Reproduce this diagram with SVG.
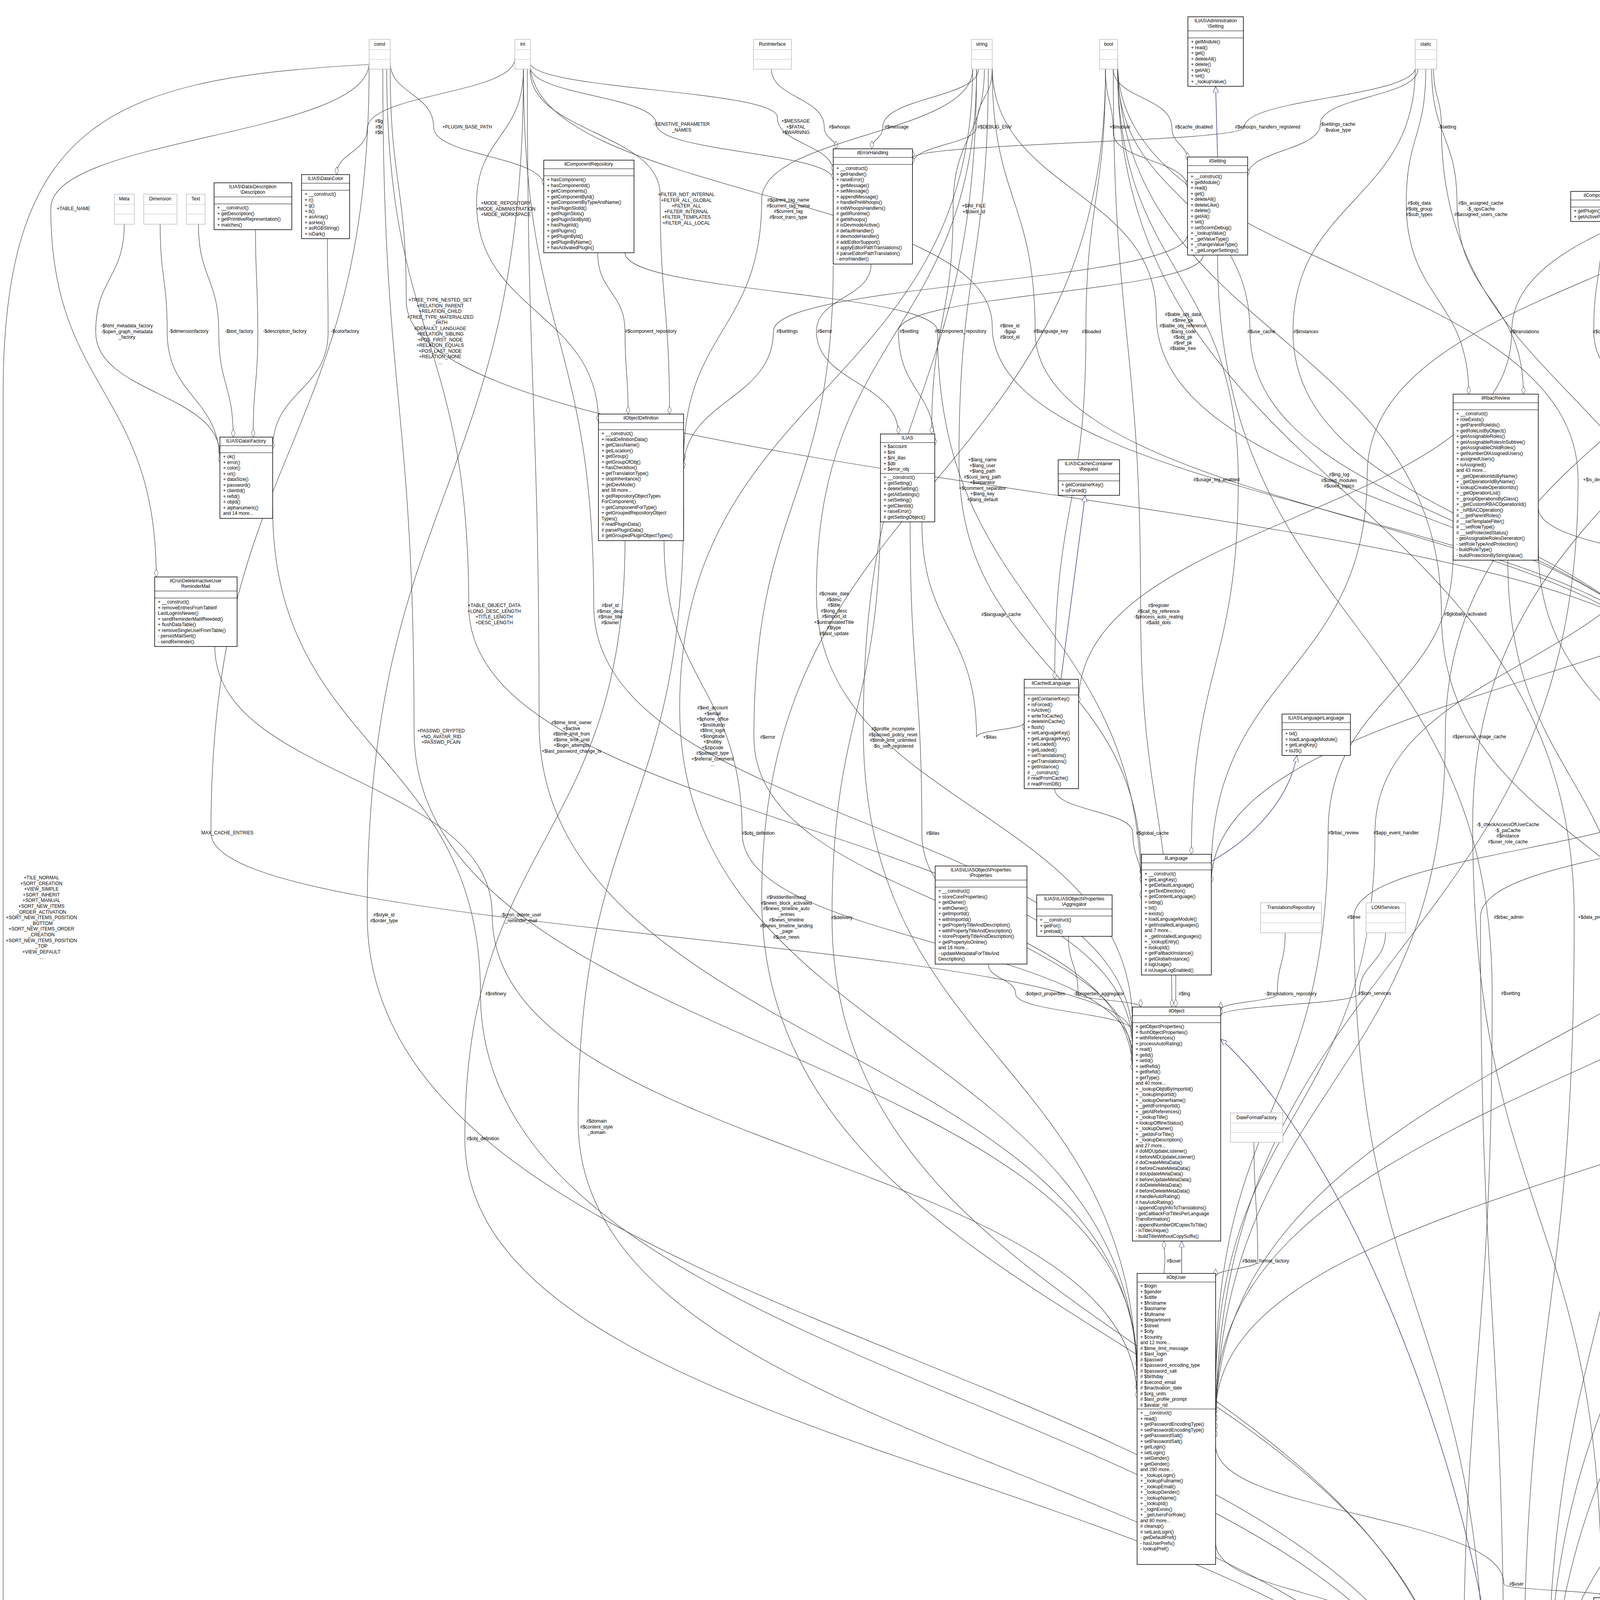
<svg xmlns="http://www.w3.org/2000/svg" width="6948" height="5200" viewBox="0 0 6948 5200">
<style>
.b{fill:#fff;stroke:#000;stroke-width:1.5}
.g{fill:#fff;stroke:#bfbfbf;stroke-width:1.5}
.s{stroke:#000;stroke-width:1.2}
.sg{stroke:#bfbfbf;stroke-width:1.2}
text{font-family:"Liberation Sans",Arial,sans-serif;font-size:12px;fill:#000}
.t{text-anchor:middle}
.l{text-anchor:middle}
.e{fill:none;stroke:#404040;stroke-width:1.2;marker-end:url(#d)}
.i{fill:none;stroke:#191970;stroke-width:1.2;marker-end:url(#tr)}
.id{fill:none;stroke:#191970;stroke-width:1.2;stroke-dasharray:8,4;marker-end:url(#tr)}
</style>
<defs>
<marker id="d" viewBox="0 0 20 10" refX="20" refY="5" markerWidth="20" markerHeight="10" orient="auto" markerUnits="userSpaceOnUse"><path d="M0,5 L10,0 L20,5 L10,10 Z" fill="#fff" stroke="#404040"/></marker>
<marker id="tr" viewBox="0 0 16 14" refX="16" refY="7" markerWidth="16" markerHeight="14" orient="auto" markerUnits="userSpaceOnUse"><path d="M0,0 L16,7 L0,14 Z" fill="#fff" stroke="#191970"/></marker>
</defs>
<rect width="6948" height="5200" fill="#fff"/>

<g id="connectors">
<path class="e" d="M318,574 C318,712 245,712 245,850 C245,1007 563,1007 563,1165"/>
<path class="e" d="M410,574 C410,712 428,712 428,850 C428,1017 563,1017 563,1185"/>
<path class="e" d="M508,574 C508,712 560,712 560,850 C560,985 597,985 597,1119"/>
<path class="e" d="M654,588 C654,719 660,719 660,850 C660,985 648,985 648,1119"/>
<path class="e" d="M838,611 C838,730 840,730 840,850 C840,1000 698,1000 698,1150"/>
<path class="e" d="M1318,150 C1318,240 940,240 940,330 C940,390 862,390 862,447"/>
<path class="e" d="M999,177 C999,470 1040,470 1040,770 C1040,1265 4328,1265 4328,1760"/>
<path class="e" d="M999,160 C999,240 1110,240 1110,325 C1110,400 1392,400 1392,475"/>
<path class="e" d="M1340,177 C1340,350 1220,350 1220,520 C1220,800 1532,800 1532,1080"/>
<path class="e" d="M945,160 C945,350 130,350 130,534 C130,1000 400,1000 400,1477"/>
<path class="e" d="M945,165 C300,200 10,300 8,1000 L8,4600 C8,4660 3000,4690 3745,4700"/>
<path class="e" d="M945,170 C945,1150 540,1150 540,2132 C540,2400 2899,2400 2899,2650"/>
<path class="e" d="M1975,177 C1975,250 2110,250 2110,325 C2110,355 2140,355 2140,381"/>
<path class="e" d="M2505,177 C2505,250 2260,250 2260,325 C2260,355 2232,355 2232,381"/>
<path class="e" d="M1357,160 C1357,230 1990,230 1990,300 C1990,370 2133,370 2133,440"/>
<path class="e" d="M1357,170 C1357,245 1680,245 1680,318 C1680,390 2133,390 2133,460"/>
<path class="e" d="M2540,177 C2540,250 2500,250 2500,325 C2500,370 2336,370 2336,420"/>
<path class="e" d="M1530,647 C1530,748 1600,748 1600,848 C1600,954 1608,954 1608,1060"/>
<path class="e" d="M1357,180 C1357,340 1690,340 1690,498 C1690,780 1714,780 1714,1060"/>
<path class="e" d="M2490,177 C2490,345 1950,345 1950,512 C1950,846 1750,846 1750,1180"/>
<path class="e" d="M2230,676 C2230,762 2090,762 2090,848 C2090,980 2300,980 2300,1111"/>
<path class="e" d="M2520,177 C2520,350 2440,350 2440,527 C2440,820 2385,820 2385,1111"/>
<path class="e" d="M2530,177 C2530,677 2455,677 2455,1177 C2455,1710 2922,1710 2922,2240"/>
<path class="e" d="M3080,653 C3080,750 2300,750 2300,848 C2300,1000 2393,1000 2393,1140"/>
<path class="e" d="M2850,177 C2850,250 3000,250 3000,326 C3000,370 3040,370 3040,410"/>
<path class="e" d="M2830,177 C2830,260 2850,260 2850,340 C2850,410 3040,410 3040,480"/>
<path class="e" d="M3630,177 C3630,248 3380,248 3380,318 C3380,385 3194,385 3194,450"/>
<path class="e" d="M3625,170 C3625,250 3185,250 3185,326 C3185,365 2336,365 2336,405"/>
<path class="e" d="M3650,177 C3650,350 3600,350 3600,520 C3600,765 3760,765 3760,1009"/>
<path class="e" d="M3665,177 C3665,350 3730,350 3730,520 C3730,765 3900,765 3900,1009"/>
<path class="e" d="M3670,177 C3670,250 3690,250 3690,325 C3690,1010 4350,1010 4350,1695"/>
<path class="e" d="M4100,582 C4100,715 4080,715 4080,848 C4080,1010 4290,1010 4290,1177"/>
<path class="e" d="M4300,589 C4300,718 4310,718 4310,848 C4310,1010 4330,1010 4330,1177"/>
<path class="e" d="M4727,160 C4727,245 4300,245 4300,325 C4300,400 4285,400 4285,468"/>
<path class="e" d="M4570,633 C4570,740 4540,740 4540,848 C4540,1010 4365,1010 4365,1177"/>
<path class="e" d="M4560,633 C4560,930 4450,930 4450,1228 C4450,1460 4440,1460 4440,1695"/>
<path class="e" d="M4740,177 C4740,355 4450,355 4450,534 C4450,850 4390,850 4390,1177"/>
<path class="e" d="M6069,200 C5000,300 4860,400 4860,534 C4860,1120 4553,1120 4553,1720"/>
<path class="e" d="M4985,602 C4985,725 5150,725 5150,848 C5150,1020 5353,1020 5353,1190"/>
<path class="e" d="M5190,632 C5190,740 5310,740 5310,848 C5310,990 5363,990 5363,1133"/>
<path class="e" d="M5375,568 C5375,708 5410,708 5410,848 C5410,990 5410,990 5410,1133"/>
<path class="e" d="M5545,588 C5545,718 5510,718 5510,848 C5510,990 5460,990 5460,1133"/>
<path class="e" d="M5700,646 C5700,748 5610,748 5610,848 C5610,1020 5512,1020 5512,1195"/>
<path class="e" d="M6360,574 C6360,710 5720,710 5720,848 C5720,1030 5513,1030 5513,1210"/>
<path class="e" d="M6560,611 C6560,730 6180,730 6180,848 C6180,1040 5513,1040 5513,1230"/>
<path class="e" d="M6186,250 C6186,290 6186,290 6186,325 C6186,350 6186,350 6186,381"/>
<path class="e" d="M6305,150 C6600,200 6900,250 6900,325 C6900,520 6860,520 6860,717"/>
<path class="e" d="M4777,170 C4777,240 5990,240 5990,303 C5990,420 6095,420 6095,530"/>
<path class="e" d="M4777,160 C4777,240 5600,240 5600,318 C5600,365 5730,365 5730,410"/>
<path class="e" d="M4777,177 C4777,250 4900,250 4900,325 C4900,400 5600,400 5600,468"/>
<path class="e" d="M6095,676 C6095,740 5800,740 5800,798 C5800,1280 4553,1280 4553,1760"/>
<path class="e" d="M4600,1327 C4600,1450 4570,1450 4570,1572 C4570,1635 4510,1635 4510,1695"/>
<path class="e" d="M4340,1269 C4340,1420 4340,1420 4340,1572 C4340,1635 4390,1635 4390,1695"/>
<path class="e" d="M3938,1300 C3938,1436 4720,1436 4720,1572 C4720,1666 4750,1666 4750,1761"/>
<path class="e" d="M4500,2065 C4500,2100 4540,2100 4540,2132 C4540,2196 4570,2196 4570,2260"/>
<path class="e" d="M4600,2424 C4600,2484 4575,2484 4575,2543 C4575,2666 4540,2666 4540,2789"/>
<path class="e" d="M4520,2968 C4520,3098 4600,3098 4600,3227 C4600,3394 5580,3394 5580,3560"/>
<path class="e" d="M4553,2000 C4553,2442 4770,2442 4770,2884 C4770,3232 5580,3232 5580,3580"/>
<path class="e" d="M4300,3726 C4300,3863 4230,3863 4230,4000 C4230,4045 4210,4045 4210,4090"/>
<path class="e" d="M3112,3700 C3112,3878 3850,3878 3850,4055 C3850,4072 4130,4072 4130,4090"/>
<path class="e" d="M3860,1434 C3860,1988 4180,1988 4180,2543 C4180,3316 4110,3316 4110,4090"/>
<path class="e" d="M5703,2906 C5703,3067 5703,3067 5703,3228 C5703,3379 5703,3379 5703,3530"/>
<path class="e" d="M6620,968 C6620,1550 5960,1550 5960,2133 C5960,2831 5830,2831 5830,3530"/>
<path class="e" d="M6200,676 C6200,1512 6540,1512 6540,2349 C6540,2974 5850,2974 5850,3600"/>
<path class="e" d="M5650,3723 C5650,4166 5300,4166 5300,4610 C5300,4665 3961,4665 3961,4720"/>
<path class="e" d="M3010,2496 C3010,2513 3010,2513 3010,2530 C3010,2554 3010,2554 3010,2578"/>
<path class="e" d="M2530,2468 C2530,2506 2600,2506 2600,2544 C2600,2592 2899,2592 2899,2640"/>
<path class="e" d="M2735,2397 C2735,2470 2760,2470 2760,2544 C2760,2561 2920,2561 2920,2578"/>
<path class="e" d="M3290,2388 C3290,2466 3270,2466 3270,2544 C3270,2564 3125,2564 3125,2585"/>
<path class="e" d="M2980,3260 C2980,3244 2982,3244 2982,3228 C2982,3202 2980,3202 2980,3177"/>
<path class="e" d="M3210,2924 C3210,3076 3220,3076 3220,3228 C3220,3248 3112,3248 3112,3268"/>
<path class="e" d="M2700,2019 C2700,2076 2900,2076 2900,2132 C2900,2196 2922,2196 2922,2260"/>
<path class="e" d="M2360,1336 C2360,1612 2500,1612 2500,1887 C2500,1868 2622,1868 2622,1850"/>
<path class="e" d="M1700,1384 C1700,1758 1900,1758 1900,2133 C1900,2416 2899,2416 2899,2700"/>
<path class="e" d="M2330,1336 C2330,1734 2360,1734 2360,2133 C2360,2426 2899,2426 2899,2720"/>
<path class="e" d="M2500,177 C2500,848 2090,848 2090,1520 C2090,2070 2899,2070 2899,2620"/>
<path class="e" d="M1340,177 C1340,864 1520,864 1520,1550 C1520,2105 2899,2105 2899,2660"/>
<path class="e" d="M990,177 C990,864 1200,864 1200,1550 C1200,2115 2899,2115 2899,2680"/>
<path class="e" d="M980,177 C980,1024 1060,1024 1060,1871 C1060,2686 2911,2686 2911,3500"/>
<path class="e" d="M1350,177 C1350,1014 1380,1014 1380,1850 C1380,2685 2911,2685 2911,3520"/>
<path class="e" d="M2490,177 C2490,994 1740,994 1740,1812 C1740,2676 2911,2676 2911,3540"/>
<path class="e" d="M2500,180 C2500,1022 2210,1022 2210,1866 C2210,2713 2911,2713 2911,3560"/>
<path class="e" d="M550,1655 C550,1992 1260,1992 1260,2342 C1260,2961 2911,2961 2911,3580"/>
<path class="e" d="M3720,1420 C3720,1776 3400,1776 3400,2132 C3400,2841 3112,2841 3112,3550"/>
<path class="e" d="M4280,1260 C4280,1696 3520,1696 3520,2132 C3520,2851 3112,2851 3112,3570"/>
<path class="e" d="M2861,150 C2861,861 3690,861 3690,1572 C3690,2180 4470,2180 4470,2789"/>
<path class="e" d="M4640,640 C4640,1259 4880,1259 4880,1878 C4880,3219 3961,3219 3961,4560"/>
<path class="e" d="M4777,177 C4777,1006 5060,1006 5060,1835 C5060,2718 3112,2718 3112,3600"/>
<path class="e" d="M5400,1311 C5400,1830 5060,1830 5060,2349 C5060,2985 3112,2985 3112,3620"/>
<path class="e" d="M4760,177 C4760,875 5040,875 5040,1573 C5040,2606 3112,2606 3112,3640"/>
<path class="e" d="M4777,180 C4777,1156 5260,1156 5260,2133 C5260,3116 4280,3116 4280,4100"/>
<path class="e" d="M6069,220 C5790,900 5790,900 5790,1573 C5790,2846 4280,2846 4280,4120"/>
<path class="e" d="M6100,265 C6100,1200 6060,1200 6060,2133 C6060,3306 3961,3306 3961,4480"/>
<path class="e" d="M6186,265 C6186,746 6186,746 6186,1228 C6186,1764 4709,1764 4709,2300"/>
<path class="e" d="M4727,175 C4727,695 3500,695 3500,1215 C3500,1722 3101,1722 3101,2230"/>
<path class="e" d="M2861,170 C2861,699 3170,699 3170,1228 C3170,1708 3050,1708 3050,2187"/>
<path class="e" d="M2850,177 C2850,864 2920,864 2920,1550 C2920,2064 3000,2064 3000,2578"/>
<path class="e" d="M4740,177 C4740,692 4760,692 4760,1206 C4760,1733 3101,1733 3101,2260"/>
<path class="e" d="M4620,647 C4620,938 4954,938 4954,1228 C4954,1494 4800,1494 4800,1761"/>
<path class="e" d="M2861,160 C2861,694 4040,694 4040,1228 C4040,2444 3112,2444 3112,3660"/>
<path class="e" d="M4727,177 C4727,1032 3700,1032 3700,1886 C3700,2783 3112,2783 3112,3680"/>
<path class="e" d="M4740,177 C4740,1144 3770,1144 3770,2111 C3770,3100 4100,3100 4100,4090"/>
<path class="e" d="M4328,2000 C4328,2174 3466,2174 3466,2348 C3466,3369 3800,3369 3800,4390"/>
<path class="e" d="M4628,2000 C4628,2174 3790,2174 3790,2348 C3790,3369 3850,3369 3850,4390"/>
<path class="e" d="M2861,177 C2861,1262 4030,1262 4030,2348 C4030,3369 3900,3369 3900,4390"/>
<path class="e" d="M4750,177 C4750,1259 4220,1259 4220,2341 C4220,3380 3961,3380 3961,4420"/>
<path class="e" d="M3938,1400 C3938,1874 4410,1874 4410,2348 C4410,3399 3961,3399 3961,4450"/>
<path class="e" d="M3547,2388 C3547,2466 3480,2466 3480,2543 C3480,2572 3125,2572 3125,2600"/>
<path class="e" d="M3117,653 C3117,1598 3820,1598 3820,2543 C3820,3482 3745,3482 3745,4420"/>
<path class="e" d="M1340,177 C1340,1260 940,1260 940,2342 C940,3481 3745,3481 3745,4620"/>
<path class="e" d="M698,1300 C698,1922 1230,1922 1230,2544 C1230,3592 3745,3592 3745,4640"/>
<path class="e" d="M1600,1384 C1600,2150 1190,2150 1190,2915 C1190,3788 3745,3788 3745,4660"/>
<path class="e" d="M1750,1300 C1750,2085 1480,2085 1480,2870 C1480,3775 3745,3775 3745,4680"/>
<path class="e" d="M2830,177 C2830,1237 1950,1237 1950,2297 C1950,3428 3745,3428 3745,4560"/>
<path class="e" d="M2254,1300 C2254,1824 2130,1824 2130,2349 C2130,3464 3745,3464 3745,4580"/>
<path class="e" d="M3112,3950 C3112,4078 3560,4078 3560,4206 C3560,4403 3745,4403 3745,4600"/>
<path class="e" d="M1357,160 C1357,497 2540,497 2540,834 C2540,1317 4328,1317 4328,1800"/>
<path class="e" d="M2540,177 C2540,512 2650,512 2650,848 C2650,1334 4328,1334 4328,1820"/>
<path class="e" d="M2830,177 C2830,513 2780,513 2780,849 C2780,1294 2700,1294 2700,1739"/>
<path class="e" d="M2540,170 C2540,488 2960,488 2960,805 C2960,1322 4328,1322 4328,1840"/>
<path class="e" d="M2861,177 C2861,513 3200,513 3200,849 C3200,1354 4328,1354 4328,1860"/>
<path class="e" d="M3623,177 C3623,513 3310,513 3310,849 C3310,1364 4328,1364 4328,1880"/>
<path class="e" d="M4727,177 C4727,513 3870,513 3870,849 C3870,1324 2761,1324 2761,1800"/>
<path class="e" d="M3040,600 C3040,724 1980,724 1980,848 C1980,1024 1750,1024 1750,1200"/>
<path class="e" d="M1600,647 C1600,748 2400,748 2400,848 C2400,1574 2922,1574 2922,2300"/>
<path class="e" d="M2133,680 C2133,1284 1930,1284 1930,1887 C1930,2314 2899,2314 2899,2740"/>
<path class="e" d="M6069,40 C5000,100 4230,200 4230,325 C4230,410 4219,410 4219,490"/>
<path class="e" d="M6100,265 C6100,556 6080,556 6080,848 C6080,1049 5513,1049 5513,1250"/>
<path class="e" d="M6280,265 C6280,556 6310,556 6310,848 C6310,1374 4553,1374 4553,1900"/>
<path class="e" d="M6000,4252 C6000,4475 3961,4475 3961,4740"/>
<path class="i" d="M3117,402 L3112,221"/>
<path class="i" d="M3853,5030 L3853,4963"/>
<path class="i" d="M3025,3260 L3025,3177"/>
<path class="i" d="M3833,4390 C3800,3900 3500,3000 3125,2660"/>
<path class="i" d="M3101,2205 C3200,2150 3300,2050 3320,1934"/>
<path class="i" d="M2716,1739 L2778,1268"/>
<path class="i" d="M6385,483 L6681,257"/>
<path class="i" d="M6759,550 C6900,500 6930,350 6900,257"/>
<path class="i" d="M5690,2848 L5412,2462"/>
<path class="id" d="M5700,2848 L5600,2415"/>
<path class="id" d="M5712,2848 L5797,2447"/>
</g>

<g id="labels">
<text class="l" x="188" y="538">+TABLE_NAME</text>
<text class="l" x="970" y="314"><tspan x="970">#$g</tspan><tspan x="970" dy="14.5">#$r</tspan><tspan x="970" dy="14.5">#$b</tspan></text>
<text class="l" x="1196" y="329">+PLUGIN_BASE_PATH</text>
<text class="l" x="1295" y="524"><tspan x="1295">+MODE_REPOSITORY</tspan><tspan x="1295" dy="14.5">+MODE_ADMINISTRATION</tspan><tspan x="1295" dy="14.5">+MODE_WORKSPACE</tspan></text>
<text class="l" x="1127" y="772"><tspan x="1127">+TREE_TYPE_NESTED_SET</tspan><tspan x="1127" dy="14.5">+RELATION_PARENT</tspan><tspan x="1127" dy="14.5">+RELATION_CHILD</tspan><tspan x="1127" dy="14.5">+TREE_TYPE_MATERIALIZED</tspan><tspan x="1127" dy="14.5">_PATH</tspan><tspan x="1127" dy="14.5">#DEFAULT_LANGUAGE</tspan><tspan x="1127" dy="14.5">+RELATION_SIBLING</tspan><tspan x="1127" dy="14.5">+POS_FIRST_NODE</tspan><tspan x="1127" dy="14.5">+RELATION_EQUALS</tspan><tspan x="1127" dy="14.5">+POS_LAST_NODE</tspan><tspan x="1127" dy="14.5">+RELATION_NONE</tspan><tspan x="1127" dy="14.5">...</tspan></text>
<text class="l" x="325" y="838"><tspan x="325">-$html_metadata_factory</tspan><tspan x="325" dy="14.5">-$open_graph_metadata</tspan><tspan x="325" dy="14.5">_factory</tspan></text>
<text class="l" x="483" y="852">-$dimensionfactory</text>
<text class="l" x="612" y="852">-$text_factory</text>
<text class="l" x="729" y="852">-$description_factory</text>
<text class="l" x="883" y="852">-$colorfactory</text>
<text class="l" x="1745" y="322"><tspan x="1745">-SENSTIVE_PARAMETER</tspan><tspan x="1745" dy="14.5">_NAMES</tspan></text>
<text class="l" x="2037" y="314"><tspan x="2037">+$MESSAGE</tspan><tspan x="2037" dy="14.5">+$FATAL</tspan><tspan x="2037" dy="14.5">+$WARNING</tspan></text>
<text class="l" x="2149" y="329">#$whoops</text>
<text class="l" x="2295" y="329">#$message</text>
<text class="l" x="2546" y="329">#$DEBUG_ENV</text>
<text class="l" x="1757" y="502"><tspan x="1757">+FILTER_NOT_INTERNAL</tspan><tspan x="1757" dy="14.5">+FILTER_ALL_GLOBAL</tspan><tspan x="1757" dy="14.5">+FILTER_ALL</tspan><tspan x="1757" dy="14.5">+FILTER_INTERNAL</tspan><tspan x="1757" dy="14.5">+FILTER_TEMPLATES</tspan><tspan x="1757" dy="14.5">+FILTER_ALL_LOCAL</tspan></text>
<text class="l" x="2018" y="516"><tspan x="2018">#$parent_tag_name</tspan><tspan x="2018" dy="14.5">#$current_tag_name</tspan><tspan x="2018" dy="14.5">#$current_tag</tspan><tspan x="2018" dy="14.5">#$root_trans_type</tspan></text>
<text class="l" x="2493" y="531"><tspan x="2493">+$INI_FILE</tspan><tspan x="2493" dy="14.5">+$client_id</tspan></text>
<text class="l" x="1666" y="852">#$component_repository</text>
<text class="l" x="2015" y="852">#$settings</text>
<text class="l" x="2111" y="852">#$error</text>
<text class="l" x="2327" y="852">#$setting</text>
<text class="l" x="2459" y="852">#$component_repository</text>
<text class="l" x="2585" y="838"><tspan x="2585">#$tree_id</tspan><tspan x="2585" dy="14.5">-$gap</tspan><tspan x="2585" dy="14.5">#$root_id</tspan></text>
<text class="l" x="2690" y="852">#$language_key</text>
<text class="l" x="2794" y="853">#$loaded</text>
<text class="l" x="2515" y="1181"><tspan x="2515">+$lang_name</tspan><tspan x="2515" dy="14.5">+$lang_user</tspan><tspan x="2515" dy="14.5">+$lang_path</tspan><tspan x="2515" dy="14.5">#$cust_lang_path</tspan><tspan x="2515" dy="14.5">+$separator</tspan><tspan x="2515" dy="14.5">+$comment_separator</tspan><tspan x="2515" dy="14.5">+$lang_key</tspan><tspan x="2515" dy="14.5">+$lang_default</tspan></text>
<text class="l" x="2867" y="329">+$module</text>
<text class="l" x="3056" y="329">#$cache_disabled</text>
<text class="l" x="3245" y="329">#$whoops_handlers_registered</text>
<text class="l" x="3424" y="322"><tspan x="3424">-$settings_cache</tspan><tspan x="3424" dy="14.5">-$value_type</tspan></text>
<text class="l" x="3705" y="329">-$setting</text>
<text class="l" x="3633" y="524"><tspan x="3633">#$obj_data</tspan><tspan x="3633" dy="14.5">#$obj_group</tspan><tspan x="3633" dy="14.5">#$sub_types</tspan></text>
<text class="l" x="3791" y="524"><tspan x="3791">#$is_assigned_cache</tspan><tspan x="3791" dy="14.5">-$_opsCache</tspan><tspan x="3791" dy="14.5">#$assigned_users_cache</tspan></text>
<text class="l" x="3028" y="809"><tspan x="3028">#$table_obj_data</tspan><tspan x="3028" dy="14.5">#$tree_pk</tspan><tspan x="3028" dy="14.5">#$table_obj_reference</tspan><tspan x="3028" dy="14.5">-$lang_code</tspan><tspan x="3028" dy="14.5">#$obj_pk</tspan><tspan x="3028" dy="14.5">#$ref_pk</tspan><tspan x="3028" dy="14.5">#$table_tree</tspan></text>
<text class="l" x="3229" y="853">#$use_cache</text>
<text class="l" x="3343" y="853">#$instances</text>
<text class="l" x="3903" y="853">#$translations</text>
<text class="l" x="4135" y="853">#$component_factory</text>
<text class="l" x="4253" y="329">#$db</text>
<text class="l" x="4365" y="329">#$event_handling_data</text>
<text class="l" x="4963" y="329">#$observer_groups</text>
<text class="l" x="4495" y="538">#$listener</text>
<text class="l" x="4878" y="538">#$db</text>
<text class="l" x="4270" y="852">#$log</text>
<text class="l" x="4366" y="852">-$event_handling_data</text>
<text class="l" x="4588" y="852">#$logger</text>
<text class="l" x="5171" y="852">#$flavours</text>
<text class="l" x="5332" y="852">#$consumers</text>
<text class="l" x="5430" y="852">#$preloader</text>
<text class="l" x="5532" y="852">#$events</text>
<text class="l" x="5637" y="852">#$collections</text>
<text class="l" x="5745" y="852">#$manager</text>
<text class="l" x="6097" y="852">#$db</text>
<text class="l" x="6214" y="852">#$container_manager</text>
<text class="l" x="6326" y="852">#$db</text>
<text class="l" x="5657" y="322"><tspan x="5657">-$rid_cache</tspan><tspan x="5657" dy="14.5">-$cache</tspan></text>
<text class="l" x="6054" y="307"><tspan x="6054">#$object_data_cache</tspan><tspan x="6054" dy="14.5">#$description_trans</tspan><tspan x="6054" dy="14.5">#$reference_cache</tspan><tspan x="6054" dy="14.5">#$trans_loaded</tspan></text>
<text class="l" x="6205" y="329">#$db</text>
<text class="l" x="6922" y="329">#$db</text>
<text class="l" x="5874" y="802"><tspan x="5874">#$oc_preloaded</tspan><tspan x="5874" dy="14.5">#$translation_cache</tspan><tspan x="5874" dy="14.5">#$is_saved_cache</tspan><tspan x="5874" dy="14.5">#$in_tree_cache</tspan><tspan x="5874" dy="14.5">-$path_id_cache</tspan><tspan x="5874" dy="14.5">#$parent_cache</tspan><tspan x="5874" dy="14.5">#$parent_type_cache</tspan><tspan x="5874" dy="14.5">#$depth_cache</tspan></text>
<text class="l" x="4496" y="1232">#$logger</text>
<text class="l" x="4815" y="1210"><tspan x="4815">#$cached_modules</tspan><tspan x="4815" dy="14.5">#$map_modules_txt</tspan><tspan x="4815" dy="14.5">+$loaded_modules</tspan><tspan x="4815" dy="14.5">+$text</tspan></text>
<text class="l" x="4954" y="1232">#$logger</text>
<text class="l" x="6186" y="1232">#$db</text>
<text class="l" x="4103" y="1232">+$is_desktop_item</text>
<text class="l" x="3428" y="1219"><tspan x="3428">#$lng_log</tspan><tspan x="3428" dy="14.5">#$used_modules</tspan><tspan x="3428" dy="14.5">#$used_topics</tspan></text>
<text class="l" x="3114" y="1232">#$usage_log_enabled</text>
<text class="l" x="106" y="2251"><tspan x="106">+TILE_NORMAL</tspan><tspan x="106" dy="14.6">+SORT_CREATION</tspan><tspan x="106" dy="14.6">+VIEW_SIMPLE</tspan><tspan x="106" dy="14.6">+SORT_INHERIT</tspan><tspan x="106" dy="14.6">+SORT_MANUAL</tspan><tspan x="106" dy="14.6">+SORT_NEW_ITEMS</tspan><tspan x="106" dy="14.6">_ORDER_ACTIVATION</tspan><tspan x="106" dy="14.6">+SORT_NEW_ITEMS_POSITION</tspan><tspan x="106" dy="14.6">_BOTTOM</tspan><tspan x="106" dy="14.6">+SORT_NEW_ITEMS_ORDER</tspan><tspan x="106" dy="14.6">_CREATION</tspan><tspan x="106" dy="14.6">+SORT_NEW_ITEMS_POSITION</tspan><tspan x="106" dy="14.6">_TOP</tspan><tspan x="106" dy="14.6">+VIEW_DEFAULT</tspan><tspan x="106" dy="14.6">...</tspan></text>
<text class="l" x="582" y="2136">MAX_CACHE_ENTRIES</text>
<text class="l" x="1265" y="1554"><tspan x="1265">+TABLE_OBJECT_DATA</tspan><tspan x="1265" dy="14.5">+LONG_DESC_LENGTH</tspan><tspan x="1265" dy="14.5">+TITLE_LENGTH</tspan><tspan x="1265" dy="14.5">+DESC_LENGTH</tspan></text>
<text class="l" x="1562" y="1554"><tspan x="1562">#$ref_id</tspan><tspan x="1562" dy="14.5">#$max_desc</tspan><tspan x="1562" dy="14.5">#$max_title</tspan><tspan x="1562" dy="14.5">#$owner</tspan></text>
<text class="l" x="1129" y="1875"><tspan x="1129">+PASSWD_CRYPTED</tspan><tspan x="1129" dy="14.5">+NO_AVATAR_RID</tspan><tspan x="1129" dy="14.5">+PASSWD_PLAIN</tspan></text>
<text class="l" x="1463" y="1854"><tspan x="1463">#$time_limit_owner</tspan><tspan x="1463" dy="14.5">+$active</tspan><tspan x="1463" dy="14.5">#$time_limit_from</tspan><tspan x="1463" dy="14.5">#$time_limit_until</tspan><tspan x="1463" dy="14.5">+$login_attempts</tspan><tspan x="1463" dy="14.5">+$last_password_change_ts</tspan></text>
<text class="l" x="983" y="2346"><tspan x="983">#$style_id</tspan><tspan x="983" dy="14.5">#$order_type</tspan></text>
<text class="l" x="1334" y="2346"><tspan x="1334">-$cron_delete_user</tspan><tspan x="1334" dy="14.5">_reminder_mail</tspan></text>
<text class="l" x="1269" y="2548">#$refinery</text>
<text class="l" x="1236" y="2919">#$obj_definition</text>
<text class="l" x="1527" y="2874"><tspan x="1527">#$domain</tspan><tspan x="1527" dy="14.5">#$content_style</tspan><tspan x="1527" dy="14.5">_domain</tspan></text>
<text class="l" x="2135" y="1524"><tspan x="2135">#$create_date</tspan><tspan x="2135" dy="14.5">#$desc</tspan><tspan x="2135" dy="14.5">#$title</tspan><tspan x="2135" dy="14.5">#$long_desc</tspan><tspan x="2135" dy="14.5">#$import_id</tspan><tspan x="2135" dy="14.5">+$untranslatedTitle</tspan><tspan x="2135" dy="14.5">#$type</tspan><tspan x="2135" dy="14.5">#$last_update</tspan></text>
<text class="l" x="2563" y="1577">#$language_cache</text>
<text class="l" x="2966" y="1554"><tspan x="2966">#$register</tspan><tspan x="2966" dy="14.5">#$call_by_reference</tspan><tspan x="2966" dy="14.5">-$process_auto_reating</tspan><tspan x="2966" dy="14.5">#$add_dots</tspan></text>
<text class="l" x="1824" y="1816"><tspan x="1824">#$ext_account</tspan><tspan x="1824" dy="14.5">+$email</tspan><tspan x="1824" dy="14.5">+$phone_office</tspan><tspan x="1824" dy="14.5">+$institution</tspan><tspan x="1824" dy="14.5">#$first_login</tspan><tspan x="1824" dy="14.5">+$longitude</tspan><tspan x="1824" dy="14.5">+$hobby</tspan><tspan x="1824" dy="14.5">+$zipcode</tspan><tspan x="1824" dy="14.5">#$passwd_type</tspan><tspan x="1824" dy="14.5">+$referral_comment</tspan><tspan x="1824" dy="14.5">...</tspan></text>
<text class="l" x="1965" y="1891">#$error</text>
<text class="l" x="2286" y="1870"><tspan x="2286">#$profile_incomplete</tspan><tspan x="2286" dy="14.5">#$passwd_policy_reset</tspan><tspan x="2286" dy="14.5">#$time_limit_unlimited</tspan><tspan x="2286" dy="14.5">-$is_self_registered</tspan></text>
<text class="l" x="2534" y="1891">+$ilias</text>
<text class="l" x="1941" y="2137">#$obj_definition</text>
<text class="l" x="2388" y="2137">#$ilias</text>
<text class="l" x="2950" y="2137">#$global_cache</text>
<text class="l" x="2013" y="2301"><tspan x="2013">#$hiddenfilesfound</tspan><tspan x="2013" dy="14.5">#$news_block_activated</tspan><tspan x="2013" dy="14.5">#$news_timeline_auto</tspan><tspan x="2013" dy="14.5">_entries</tspan><tspan x="2013" dy="14.5">#$news_timeline</tspan><tspan x="2013" dy="14.5">#$news_timeline_landing</tspan><tspan x="2013" dy="14.5">_page</tspan><tspan x="2013" dy="14.5">#$use_news</tspan></text>
<text class="l" x="2155" y="2353">#$delivery</text>
<text class="l" x="2675" y="2548">-$object_properties</text>
<text class="l" x="2813" y="2548">-$properties_aggregator</text>
<text class="l" x="3032" y="2548">#$lng</text>
<text class="l" x="3305" y="2548">-$translations_repository</text>
<text class="l" x="3751" y="1576">#$globally_activated</text>
<text class="l" x="4112" y="1576">#$log</text>
<text class="l" x="4391" y="1576">#$eventHandler</text>
<text class="l" x="4593" y="1576">$tree_impl</text>
<text class="l" x="4773" y="1576">#$rbacreview</text>
<text class="l" x="3787" y="1890">#$personal_image_cache</text>
<text class="l" x="4916" y="1882"><tspan x="4916">#$obj_log</tspan><tspan x="4916" dy="14.5">#$log</tspan></text>
<text class="l" x="3439" y="2136">#$rbac_review</text>
<text class="l" x="3574" y="2136">#$app_event_handler</text>
<text class="l" x="3860" y="2115"><tspan x="3860">-$_checkAccessOfUserCache</tspan><tspan x="3860" dy="14.5">-$_paCache</tspan><tspan x="3860" dy="14.5">#$instance</tspan><tspan x="3860" dy="14.5">#$user_role_cache</tspan></text>
<text class="l" x="4565" y="2136">#$tree</text>
<text class="l" x="3466" y="2352">#$tree</text>
<text class="l" x="3862" y="2352">#$rbac_admin</text>
<text class="l" x="4088" y="2352">+$data_preloaded</text>
<text class="l" x="4276" y="2345"><tspan x="4276">+$items</tspan><tspan x="4276" dy="14.5">#$type_grps</tspan></text>
<text class="l" x="4465" y="2352">#$rbacreview</text>
<text class="l" x="3519" y="2547">#$lom_services</text>
<text class="l" x="3867" y="2547">#$setting</text>
<text class="l" x="4209" y="2547">#$review</text>
<text class="l" x="4604" y="2547">#$repo</text>
<text class="l" x="5055" y="1577">+$objectList</text>
<text class="l" x="5780" y="1577">#$db</text>
<text class="l" x="5083" y="1839"><tspan x="5083">+$prefs</tspan><tspan x="5083" dy="14.5">+$user_defined_data</tspan><tspan x="5083" dy="14.5">#$interests_help</tspan><tspan x="5083" dy="14.5">_offered</tspan><tspan x="5083" dy="14.5">#$interests_general</tspan><tspan x="5083" dy="14.5">#$oldPrefs</tspan><tspan x="5083" dy="14.5">#$interests_help</tspan><tspan x="5083" dy="14.5">_looking</tspan></text>
<text class="l" x="5277" y="2137">#$mem_view</text>
<text class="l" x="5994" y="2137">#$repo</text>
<text class="l" x="6061" y="2137">#$db</text>
<text class="l" x="5079" y="2353">-$lrss</text>
<text class="l" x="6568" y="2353">#$objectDataCache</text>
<text class="l" x="5733" y="3232">#$access</text>
<text class="l" x="4796" y="2888">#$tree</text>
<text class="l" x="4639" y="3231">#$fav_manager</text>
<text class="l" x="3882" y="4059">#$user</text>
<text class="l" x="4228" y="4059">#$http</text>
<text class="l" x="3581" y="4210">#$user</text>
<text class="l" x="3240" y="3232">#$date_format_factory</text>
<text class="l" x="3005" y="3232">#$user</text>
<text class="l" x="5350" y="4614"><tspan x="5350">#$recommended_content</tspan><tspan x="5350" dy="14.5">_manager</tspan></text>
</g>

<g id="n_const"><rect class="g" x="945" y="101" width="54" height="76"/><text class="t" x="972" y="117">const</text><line class="sg" x1="945" y1="127" x2="999" y2="127"/><line class="sg" x1="945" y1="152" x2="999" y2="152"/></g>
<g id="n_int"><rect class="g" x="1318" y="101" width="40" height="76"/><text class="t" x="1338" y="117">int</text><line class="sg" x1="1318" y1="127" x2="1358" y2="127"/><line class="sg" x1="1318" y1="152" x2="1358" y2="152"/></g>
<g id="n_runinterface"><rect class="g" x="1929" y="101" width="97" height="76"/><text class="t" x="1977" y="117">RunInterface</text><line class="sg" x1="1929" y1="127" x2="2026" y2="127"/><line class="sg" x1="1929" y1="152" x2="2026" y2="152"/></g>
<g id="n_string"><rect class="g" x="2487" y="101" width="53" height="76"/><text class="t" x="2513" y="117">string</text><line class="sg" x1="2487" y1="127" x2="2540" y2="127"/><line class="sg" x1="2487" y1="152" x2="2540" y2="152"/></g>
<g id="n_bool"><rect class="g" x="2815" y="101" width="46" height="76"/><text class="t" x="2838" y="117">bool</text><line class="sg" x1="2815" y1="127" x2="2861" y2="127"/><line class="sg" x1="2815" y1="152" x2="2861" y2="152"/></g>
<g id="n_static"><rect class="g" x="3623" y="101" width="55" height="76"/><text class="t" x="3650" y="117">static</text><line class="sg" x1="3623" y1="127" x2="3678" y2="127"/><line class="sg" x1="3623" y1="152" x2="3678" y2="152"/></g>
<g id="n_array"><rect class="g" x="4727" y="101" width="50" height="76"/><text class="t" x="4752" y="117">array</text><line class="sg" x1="4727" y1="127" x2="4777" y2="127"/><line class="sg" x1="4727" y1="152" x2="4777" y2="152"/></g>
<g id="n_meta"><rect class="g" x="293" y="497" width="51" height="77"/><text class="t" x="318" y="513">Meta</text><line class="sg" x1="293" y1="523" x2="344" y2="523"/><line class="sg" x1="293" y1="548" x2="344" y2="548"/></g>
<g id="n_dimension"><rect class="g" x="368" y="497" width="85" height="77"/><text class="t" x="410" y="513">Dimension</text><line class="sg" x1="368" y1="523" x2="453" y2="523"/><line class="sg" x1="368" y1="548" x2="453" y2="548"/></g>
<g id="n_text"><rect class="g" x="477" y="497" width="48" height="77"/><text class="t" x="501" y="513">Text</text><line class="sg" x1="477" y1="523" x2="525" y2="523"/><line class="sg" x1="477" y1="548" x2="525" y2="548"/></g>
<g id="n_translationsrepository"><rect class="g" x="3227" y="2311" width="156" height="77"/><text class="t" x="3305" y="2327">TranslationsRepository</text><line class="sg" x1="3227" y1="2337" x2="3383" y2="2337"/><line class="sg" x1="3227" y1="2362" x2="3383" y2="2362"/></g>
<g id="n_lomservices"><rect class="g" x="3497" y="2311" width="101" height="77"/><text class="t" x="3547" y="2327">LOMServices</text><line class="sg" x1="3497" y1="2337" x2="3598" y2="2337"/><line class="sg" x1="3497" y1="2362" x2="3598" y2="2362"/></g>
<g id="n_dateformatfactory"><rect class="g" x="3150" y="2849" width="134" height="75"/><text class="t" x="3217" y="2865">DateFormatFactory</text><line class="sg" x1="3150" y1="2875" x2="3284" y2="2875"/><line class="sg" x1="3150" y1="2899" x2="3284" y2="2899"/></g>

<g id="n_description"><rect class="b" x="548" y="468" width="199" height="120"/><text class="t" x="647" y="482"><tspan x="647">ILIAS\Data\Description</tspan><tspan x="647" dy="14">\Description</tspan></text><line class="s" x1="548" y1="504" x2="747" y2="504"/><line class="s" x1="548" y1="522" x2="747" y2="522"/><text x="556" y="536"><tspan x="556">+ __construct()</tspan><tspan x="556" dy="14.5">+ getDescription()</tspan><tspan x="556" dy="14.5">+ getPrimitiveRepresentation()</tspan><tspan x="556" dy="14.5">+ matches()</tspan></text></g>
<g id="n_color"><rect class="b" x="772" y="447" width="123" height="164"/><text class="t" x="833" y="461">ILIAS\Data\Color</text><line class="s" x1="772" y1="469" x2="895" y2="469"/><line class="s" x1="772" y1="487" x2="895" y2="487"/><text x="780" y="501"><tspan x="780">+ __construct()</tspan><tspan x="780" dy="14.5">+ r()</tspan><tspan x="780" dy="14.5">+ g()</tspan><tspan x="780" dy="14.5">+ b()</tspan><tspan x="780" dy="14.5">+ asArray()</tspan><tspan x="780" dy="14.5">+ asHex()</tspan><tspan x="780" dy="14.5">+ asRGBString()</tspan><tspan x="780" dy="14.5">+ isDark()</tspan></text></g>
<g id="n_datafactory"><rect class="b" x="563" y="1119" width="135" height="208"/><text class="t" x="630" y="1133">ILIAS\Data\Factory</text><line class="s" x1="563" y1="1141" x2="698" y2="1141"/><line class="s" x1="563" y1="1159" x2="698" y2="1159"/><text x="571" y="1173"><tspan x="571">+ ok()</tspan><tspan x="571" dy="14.5">+ error()</tspan><tspan x="571" dy="14.5">+ color()</tspan><tspan x="571" dy="14.5">+ uri()</tspan><tspan x="571" dy="14.5">+ dataSize()</tspan><tspan x="571" dy="14.5">+ password()</tspan><tspan x="571" dy="14.5">+ clientId()</tspan><tspan x="571" dy="14.5">+ refId()</tspan><tspan x="571" dy="14.5">+ objId()</tspan><tspan x="571" dy="14.5">+ alphanumeric()</tspan><tspan x="571" dy="14.5">and 14 more...</tspan></text></g>
<g id="n_ilcomponentrepository"><rect class="b" x="1392" y="410" width="231" height="237"/><text class="t" x="1507" y="424">ilComponentRepository</text><line class="s" x1="1392" y1="432" x2="1623" y2="432"/><line class="s" x1="1392" y1="450" x2="1623" y2="450"/><text x="1400" y="464"><tspan x="1400">+ hasComponent()</tspan><tspan x="1400" dy="14.5">+ hasComponentId()</tspan><tspan x="1400" dy="14.5">+ getComponents()</tspan><tspan x="1400" dy="14.5">+ getComponentById()</tspan><tspan x="1400" dy="14.5">+ getComponentByTypeAndName()</tspan><tspan x="1400" dy="14.5">+ hasPluginSlotId()</tspan><tspan x="1400" dy="14.5">+ getPluginSlots()</tspan><tspan x="1400" dy="14.5">+ getPluginSlotById()</tspan><tspan x="1400" dy="14.5">+ hasPluginId()</tspan><tspan x="1400" dy="14.5">+ getPlugins()</tspan><tspan x="1400" dy="14.5">+ getPluginById()</tspan><tspan x="1400" dy="14.5">+ getPluginByName()</tspan><tspan x="1400" dy="14.5">+ hasActivatedPlugin()</tspan></text></g>
<g id="n_ilerrorhandling"><rect class="b" x="2133" y="381" width="203" height="295"/><text class="t" x="2234" y="395">ilErrorHandling</text><line class="s" x1="2133" y1="403" x2="2336" y2="403"/><line class="s" x1="2133" y1="421" x2="2336" y2="421"/><text x="2141" y="435"><tspan x="2141">+ __construct()</tspan><tspan x="2141" dy="14.5">+ getHandler()</tspan><tspan x="2141" dy="14.5">+ raiseError()</tspan><tspan x="2141" dy="14.5">+ getMessage()</tspan><tspan x="2141" dy="14.5">+ setMessage()</tspan><tspan x="2141" dy="14.5">+ appendMessage()</tspan><tspan x="2141" dy="14.5">+ handlePreWhoops()</tspan><tspan x="2141" dy="14.5"># initWhoopsHandlers()</tspan><tspan x="2141" dy="14.5"># getIlRuntime()</tspan><tspan x="2141" dy="14.5"># getWhoops()</tspan><tspan x="2141" dy="14.5"># isDevmodeActive()</tspan><tspan x="2141" dy="14.5"># defaultHandler()</tspan><tspan x="2141" dy="14.5"># devmodeHandler()</tspan><tspan x="2141" dy="14.5"># addEditorSupport()</tspan><tspan x="2141" dy="14.5"># applyEditorPathTranslations()</tspan><tspan x="2141" dy="14.5"># parseEditorPathTranslation()</tspan><tspan x="2141" dy="14.5">- errorHandler()</tspan></text></g>
<g id="n_ilobjectdefinition"><rect class="b" x="1532" y="1060" width="218" height="324"/><text class="t" x="1641" y="1074">ilObjectDefinition</text><line class="s" x1="1532" y1="1082" x2="1750" y2="1082"/><line class="s" x1="1532" y1="1100" x2="1750" y2="1100"/><text x="1540" y="1114"><tspan x="1540">+ __construct()</tspan><tspan x="1540" dy="14.5">+ readDefinitionData()</tspan><tspan x="1540" dy="14.5">+ getClassName()</tspan><tspan x="1540" dy="14.5">+ getLocation()</tspan><tspan x="1540" dy="14.5">+ getGroup()</tspan><tspan x="1540" dy="14.5">+ getGroupOfObj()</tspan><tspan x="1540" dy="14.5">+ hasCheckbox()</tspan><tspan x="1540" dy="14.5">+ getTranslationType()</tspan><tspan x="1540" dy="14.5">+ stopInheritance()</tspan><tspan x="1540" dy="14.5">+ getDevMode()</tspan><tspan x="1540" dy="14.5">and 38 more...</tspan><tspan x="1540" dy="14.5">+ getRepositoryObjectTypes</tspan><tspan x="1540" dy="14.5">ForComponent()</tspan><tspan x="1540" dy="14.5">+ getComponentForType()</tspan><tspan x="1540" dy="14.5">+ getGroupedRepositoryObject</tspan><tspan x="1540" dy="14.5">Types()</tspan><tspan x="1540" dy="14.5"># readPluginData()</tspan><tspan x="1540" dy="14.5"># parsePluginData()</tspan><tspan x="1540" dy="14.5"># getGroupedPluginObjectTypes()</tspan></text></g>
<g id="n_ilias"><rect class="b" x="2254" y="1111" width="139" height="225"/><text class="t" x="2323" y="1125">ILIAS</text><line class="s" x1="2254" y1="1133" x2="2393" y2="1133"/><text x="2262" y="1147"><tspan x="2262">+ $account</tspan><tspan x="2262" dy="14.5">+ $ini</tspan><tspan x="2262" dy="14.5">+ $ini_ilias</tspan><tspan x="2262" dy="14.5">+ $db</tspan><tspan x="2262" dy="14.5">+ $error_obj</tspan></text><line class="s" x1="2254" y1="1212" x2="2393" y2="1212"/><text x="2262" y="1226"><tspan x="2262">+ __construct()</tspan><tspan x="2262" dy="14.5">+ getSetting()</tspan><tspan x="2262" dy="14.5">+ deleteSetting()</tspan><tspan x="2262" dy="14.5">+ getAllSettings()</tspan><tspan x="2262" dy="14.5">+ setSetting()</tspan><tspan x="2262" dy="14.5">+ getClientId()</tspan><tspan x="2262" dy="14.5">+ raiseError()</tspan><tspan x="2262" dy="14.5"># getSettingObject()</tspan></text></g>
<g id="n_adminsetting"><rect class="b" x="3041" y="43" width="142" height="178"/><text class="t" x="3112" y="57"><tspan x="3112">ILIAS\Administration</tspan><tspan x="3112" dy="14">\Setting</tspan></text><line class="s" x1="3041" y1="79" x2="3183" y2="79"/><line class="s" x1="3041" y1="97" x2="3183" y2="97"/><text x="3049" y="111"><tspan x="3049">+ getModule()</tspan><tspan x="3049" dy="14.5">+ read()</tspan><tspan x="3049" dy="14.5">+ get()</tspan><tspan x="3049" dy="14.5">+ deleteAll()</tspan><tspan x="3049" dy="14.5">+ delete()</tspan><tspan x="3049" dy="14.5">+ getAll()</tspan><tspan x="3049" dy="14.5">+ set()</tspan><tspan x="3049" dy="14.5">+ _lookupValue()</tspan></text></g>
<g id="n_ilsetting"><rect class="b" x="3040" y="402" width="154" height="251"/><text class="t" x="3117" y="416">ilSetting</text><line class="s" x1="3040" y1="424" x2="3194" y2="424"/><line class="s" x1="3040" y1="442" x2="3194" y2="442"/><text x="3048" y="456"><tspan x="3048">+ __construct()</tspan><tspan x="3048" dy="14.5">+ getModule()</tspan><tspan x="3048" dy="14.5">+ read()</tspan><tspan x="3048" dy="14.5">+ get()</tspan><tspan x="3048" dy="14.5">+ deleteAll()</tspan><tspan x="3048" dy="14.5">+ deleteLike()</tspan><tspan x="3048" dy="14.5">+ delete()</tspan><tspan x="3048" dy="14.5">+ getAll()</tspan><tspan x="3048" dy="14.5">+ set()</tspan><tspan x="3048" dy="14.5">+ setScormDebug()</tspan><tspan x="3048" dy="14.5">+ _lookupValue()</tspan><tspan x="3048" dy="14.5">+ _getValueType()</tspan><tspan x="3048" dy="14.5">+ _changeValueType()</tspan><tspan x="3048" dy="14.5">+ _getLongerSettings()</tspan></text></g>
<g id="n_ilcomponentfactory"><rect class="b" x="4021" y="490" width="175" height="77"/><text class="t" x="4108" y="504">ilComponentFactory</text><line class="s" x1="4021" y1="512" x2="4196" y2="512"/><line class="s" x1="4021" y1="530" x2="4196" y2="530"/><text x="4029" y="544"><tspan x="4029">+ getPlugin()</tspan><tspan x="4029" dy="14.5">+ getActivePluginsInSlot()</tspan></text></g>
<g id="n_ilartifacteventhandlingdata"><rect class="b" x="4219" y="468" width="183" height="121"/><text class="t" x="4310" y="482">ilArtifactEventHandlingData</text><line class="s" x1="4219" y1="490" x2="4402" y2="490"/><line class="s" x1="4219" y1="508" x2="4402" y2="508"/><text x="4227" y="522"><tspan x="4227">+ __construct()</tspan><tspan x="4227" dy="14.5">+ hasEvent()</tspan><tspan x="4227" dy="14.5">+ getEvent()</tspan><tspan x="4227" dy="14.5">+ getEventsByType()</tspan><tspan x="4227" dy="14.5"># readEventHandlingData()</tspan></text></g>
<g id="n_illogger"><rect class="b" x="4537" y="425" width="110" height="208"/><text class="t" x="4592" y="439">ilLogger</text><line class="s" x1="4537" y1="447" x2="4647" y2="447"/><line class="s" x1="4537" y1="465" x2="4647" y2="465"/><text x="4545" y="479"><tspan x="4545">+ __construct()</tspan><tspan x="4545" dy="14.5">+ isHandling()</tspan><tspan x="4545" dy="14.5">+ log()</tspan><tspan x="4545" dy="14.5">+ dump()</tspan><tspan x="4545" dy="14.5">+ debug()</tspan><tspan x="4545" dy="14.5">+ info()</tspan><tspan x="4545" dy="14.5">+ notice()</tspan><tspan x="4545" dy="14.5">+ warning()</tspan><tspan x="4545" dy="14.5">+ error()</tspan><tspan x="4545" dy="14.5">+ critical()</tspan><tspan x="4545" dy="14.5">and 7 more...</tspan></text></g>
<g id="n_flavours"><rect class="b" x="4906" y="453" width="159" height="149"/><text class="t" x="4985" y="467"><tspan x="4985">ILIAS\ResourceStorage</tspan><tspan x="4985" dy="14">\Flavour\Flavours</tspan></text><line class="s" x1="4906" y1="489" x2="5065" y2="489"/><line class="s" x1="4906" y1="507" x2="5065" y2="507"/><text x="4914" y="521"><tspan x="4914">+ __construct()</tspan><tspan x="4914" dy="14.5">+ get()</tspan><tspan x="4914" dy="14.5">+ ensure()</tspan><tspan x="4914" dy="14.5">+ has()</tspan><tspan x="4914" dy="14.5">+ remove()</tspan><tspan x="4914" dy="14.5">+ possible()</tspan></text></g>
<g id="n_consumers"><rect class="b" x="5089" y="425" width="159" height="207"/><text class="t" x="5168" y="439"><tspan x="5168">ILIAS\LegalDocuments</tspan><tspan x="5168" dy="14">\Consumer\Consumers</tspan></text><line class="s" x1="5089" y1="461" x2="5248" y2="461"/><line class="s" x1="5089" y1="479" x2="5248" y2="479"/><text x="5097" y="493"><tspan x="5097">+ __construct()</tspan><tspan x="5097" dy="14.5">+ download()</tspan><tspan x="5097" dy="14.5">+ inline()</tspan><tspan x="5097" dy="14.5">+ stream()</tspan><tspan x="5097" dy="14.5">+ src()</tspan><tspan x="5097" dy="14.5">+ downloadCollection()</tspan><tspan x="5097" dy="14.5">+ downloadResources()</tspan><tspan x="5097" dy="14.5">+ flavourUrls()</tspan><tspan x="5097" dy="14.5">+ containerZIP()</tspan><tspan x="5097" dy="14.5">+ containerURI()</tspan></text></g>
<g id="n_repositorypreloader"><rect class="b" x="5273" y="491" width="203" height="77"/><text class="t" x="5374" y="505"><tspan x="5374">ILIAS\ResourceStorage</tspan><tspan x="5374" dy="14">\Preloader\RepositoryPreloader</tspan></text><line class="s" x1="5273" y1="527" x2="5476" y2="527"/><line class="s" x1="5273" y1="545" x2="5476" y2="545"/><text x="5281" y="559">+ preload()</text></g>
<g id="n_eventssubject"><rect class="b" x="5500" y="468" width="160" height="120"/><text class="t" x="5580" y="482"><tspan x="5580">ILIAS\ResourceStorage</tspan><tspan x="5580" dy="14">\Events\Subject</tspan></text><line class="s" x1="5500" y1="504" x2="5660" y2="504"/><line class="s" x1="5500" y1="522" x2="5660" y2="522"/><text x="5508" y="536"><tspan x="5508">+ __construct()</tspan><tspan x="5508" dy="14.5">+ attach()</tspan><tspan x="5508" dy="14.5">+ detach()</tspan><tspan x="5508" dy="14.5"># initObserverGroup()</tspan></text></g>
<g id="n_collections"><rect class="b" x="5685" y="410" width="182" height="236"/><text class="t" x="5776" y="424"><tspan x="5776">ILIAS\Export\ImportHandler</tspan><tspan x="5776" dy="14">\Parser\NodeInfo\Collection</tspan><tspan x="5776" dy="14">\Collections</tspan></text><line class="s" x1="5685" y1="460" x2="5867" y2="460"/><line class="s" x1="5685" y1="478" x2="5867" y2="478"/><text x="5693" y="492"><tspan x="5693">+ __construct()</tspan><tspan x="5693" dy="14.5">+ id()</tspan><tspan x="5693" dy="14.5">+ exists()</tspan><tspan x="5693" dy="14.5">+ idOrNull()</tspan><tspan x="5693" dy="14.5">+ get()</tspan><tspan x="5693" dy="14.5">+ store()</tspan><tspan x="5693" dy="14.5">+ clone()</tspan><tspan x="5693" dy="14.5">+ remove()</tspan><tspan x="5693" dy="14.5">+ rangeAsArray()</tspan><tspan x="5693" dy="14.5">+ rangeAsGenerator()</tspan><tspan x="5693" dy="14.5">+ sort()</tspan></text></g>
<g id="n_ildbinterface"><rect class="b" x="6069" y="13" width="236" height="237"/><text class="t" x="6187" y="27">ilDBInterface</text><line class="s" x1="6069" y1="35" x2="6305" y2="35"/><line class="s" x1="6069" y1="53" x2="6305" y2="53"/><text x="6077" y="67"><tspan x="6077">+ doesCollationSupportMB4Strings()</tspan><tspan x="6077" dy="14.5">+ sanitizeMB4StringIfNotSupported()</tspan><tspan x="6077" dy="14.5">+ initFromIniFile()</tspan><tspan x="6077" dy="14.5">+ connect()</tspan><tspan x="6077" dy="14.5">+ nextId()</tspan><tspan x="6077" dy="14.5">+ createTable()</tspan><tspan x="6077" dy="14.5">+ addPrimaryKey()</tspan><tspan x="6077" dy="14.5">+ createSequence()</tspan><tspan x="6077" dy="14.5">+ getSequenceName()</tspan><tspan x="6077" dy="14.5">+ tableExists()</tspan><tspan x="6077" dy="14.5">and 78 more...</tspan><tspan x="6077" dy="14.5">+ getReservedWords()</tspan><tspan x="6077" dy="14.5">+ isReservedWord()</tspan></text></g>
<g id="n_ilobjectdatacache"><rect class="b" x="6095" y="381" width="183" height="295"/><text class="t" x="6186" y="395">ilObjectDataCache</text><line class="s" x1="6095" y1="403" x2="6278" y2="403"/><line class="s" x1="6095" y1="421" x2="6278" y2="421"/><text x="6103" y="435"><tspan x="6103">+ __construct()</tspan><tspan x="6103" dy="14.5">+ deleteCachedEntry()</tspan><tspan x="6103" dy="14.5">+ lookupObjId()</tspan><tspan x="6103" dy="14.5">+ lookupTitle()</tspan><tspan x="6103" dy="14.5">+ lookupType()</tspan><tspan x="6103" dy="14.5">+ lookupOwner()</tspan><tspan x="6103" dy="14.5">+ lookupDescription()</tspan><tspan x="6103" dy="14.5">+ lookupLastUpdate()</tspan><tspan x="6103" dy="14.5">+ lookupOfflineStatus()</tspan><tspan x="6103" dy="14.5">+ isTranslatedDescription()</tspan><tspan x="6103" dy="14.5">+ preloadObjectCache()</tspan><tspan x="6103" dy="14.5">+ preloadTranslations()</tspan><tspan x="6103" dy="14.5">+ preloadReferenceCache()</tspan><tspan x="6103" dy="14.5">- __isReferenceCached()</tspan><tspan x="6103" dy="14.5">- __isObjectCached()</tspan><tspan x="6103" dy="14.5">- __storeReference()</tspan><tspan x="6103" dy="14.5">- __storeObjectData()</tspan></text></g>
<g id="n_manager"><rect class="b" x="6301" y="483" width="161" height="91"/><text class="t" x="6381" y="497"><tspan x="6381">ILIAS\ResourceStorage</tspan><tspan x="6381" dy="14">\Manager\Manager</tspan></text><line class="s" x1="6301" y1="519" x2="6462" y2="519"/><line class="s" x1="6301" y1="537" x2="6462" y2="537"/><text x="6309" y="551"><tspan x="6309">+ upload()</tspan><tspan x="6309" dy="14.5">+ stream()</tspan></text></g>
<g id="n_containermanager"><rect class="b" x="6537" y="447" width="222" height="164"/><text class="t" x="6648" y="461"><tspan x="6648">ILIAS\ResourceStorage</tspan><tspan x="6648" dy="14">\Manager\ContainerManager</tspan></text><line class="s" x1="6537" y1="483" x2="6759" y2="483"/><line class="s" x1="6537" y1="501" x2="6759" y2="501"/><text x="6545" y="515"><tspan x="6545">+ containerFromUpload()</tspan><tspan x="6545" dy="14.5">+ containerFromStream()</tspan><tspan x="6545" dy="14.5">+ createDirectoryInsideContainer()</tspan><tspan x="6545" dy="14.5">+ removePathInsideContainer()</tspan><tspan x="6545" dy="14.5">+ addUploadToContainer()</tspan><tspan x="6545" dy="14.5">+ addStreamToContainer()</tspan><tspan x="6545" dy="14.5"># normalizePath()</tspan></text></g>
<g id="n_basemanager"><rect class="b" x="6681" y="6" width="234" height="251"/><text class="t" x="6798" y="20"><tspan x="6798">ILIAS\ResourceStorage</tspan><tspan x="6798" dy="14">\Manager\BaseManager</tspan></text><line class="s" x1="6681" y1="42" x2="6915" y2="42"/><line class="s" x1="6681" y1="60" x2="6915" y2="60"/><text x="6689" y="74"><tspan x="6689">+ __construct()</tspan><tspan x="6689" dy="14.5">+ publish()</tspan><tspan x="6689" dy="14.5">+ unpublish()</tspan><tspan x="6689" dy="14.5">+ find()</tspan><tspan x="6689" dy="14.5">+ getResource()</tspan><tspan x="6689" dy="14.5">+ remove()</tspan><tspan x="6689" dy="14.5">+ clone()</tspan><tspan x="6689" dy="14.5">+ appendNewRevision()</tspan><tspan x="6689" dy="14.5">+ replaceWithUpload()</tspan><tspan x="6689" dy="14.5">+ appendNewRevisionFromStream()</tspan><tspan x="6689" dy="14.5">and 6 more...</tspan><tspan x="6689" dy="14.5"># checkZIP()</tspan><tspan x="6689" dy="14.5"># newStreamBased()</tspan></text></g>
<g id="n_ilrecommendedcontentdbrepository"><rect class="b" x="6584" y="717" width="284" height="251"/><text class="t" x="6726" y="731">ilRecommendedContentDBRepository</text><line class="s" x1="6584" y1="739" x2="6868" y2="739"/><line class="s" x1="6584" y1="757" x2="6868" y2="757"/><text x="6592" y="771"><tspan x="6592">+ __construct()</tspan><tspan x="6592" dy="14.5">+ addRoleRecommendation()</tspan><tspan x="6592" dy="14.5">+ removeRoleRecommendation()</tspan><tspan x="6592" dy="14.5">+ addObjectRecommendation()</tspan><tspan x="6592" dy="14.5">+ removeObjectRecommendation()</tspan><tspan x="6592" dy="14.5">+ removeRecommendationsOfRefId()</tspan><tspan x="6592" dy="14.5">+ removeRecommendationsOfUser()</tspan><tspan x="6592" dy="14.5">+ removeRecommendationsOfRole()</tspan><tspan x="6592" dy="14.5">+ declineObjectRecommendation()</tspan><tspan x="6592" dy="14.5">+ getRecommendationsOfRoles()</tspan><tspan x="6592" dy="14.5">+ getOpenRecommendationsOfUser()</tspan><tspan x="6592" dy="14.5"># ifExistsObjectRecommendation()</tspan><tspan x="6592" dy="14.5"># getUserObjectRecommendations()</tspan><tspan x="6592" dy="14.5"># getDeclinedUserObjectRecommendations()</tspan></text></g>
<g id="n_ilcrondeleteinactiveuserremindermail"><rect class="b" x="396" y="1477" width="211" height="178"/><text class="t" x="501" y="1491"><tspan x="501">ilCronDeleteInactiveUser</tspan><tspan x="501" dy="14">ReminderMail</tspan></text><line class="s" x1="396" y1="1513" x2="607" y2="1513"/><line class="s" x1="396" y1="1531" x2="607" y2="1531"/><text x="404" y="1545"><tspan x="404">+ __construct()</tspan><tspan x="404" dy="14.5">+ removeEntriesFromTableIf</tspan><tspan x="404" dy="14.5">LastLoginIsNewer()</tspan><tspan x="404" dy="14.5">+ sendReminderMailIfNeeded()</tspan><tspan x="404" dy="14.5">+ flushDataTable()</tspan><tspan x="404" dy="14.5">+ removeSingleUserFromTable()</tspan><tspan x="404" dy="14.5">- persistMailSent()</tspan><tspan x="404" dy="14.5">- sendReminder()</tspan></text></g>
<g id="n_request"><rect class="b" x="2709" y="1177" width="157" height="91"/><text class="t" x="2787" y="1191"><tspan x="2787">ILIAS\Cache\Container</tspan><tspan x="2787" dy="14">\Request</tspan></text><line class="s" x1="2709" y1="1213" x2="2866" y2="1213"/><line class="s" x1="2709" y1="1231" x2="2866" y2="1231"/><text x="2717" y="1245"><tspan x="2717">+ getContainerKey()</tspan><tspan x="2717" dy="14.5">+ isForced()</tspan></text></g>
<g id="n_ilcachedlanguage"><rect class="b" x="2622" y="1739" width="139" height="280"/><text class="t" x="2691" y="1753">ilCachedLanguage</text><line class="s" x1="2622" y1="1761" x2="2761" y2="1761"/><line class="s" x1="2622" y1="1779" x2="2761" y2="1779"/><text x="2630" y="1793"><tspan x="2630">+ getContainerKey()</tspan><tspan x="2630" dy="14.5">+ isForced()</tspan><tspan x="2630" dy="14.5">+ isActive()</tspan><tspan x="2630" dy="14.5">+ writeToCache()</tspan><tspan x="2630" dy="14.5">+ deleteInCache()</tspan><tspan x="2630" dy="14.5">+ flush()</tspan><tspan x="2630" dy="14.5">+ setLanguageKey()</tspan><tspan x="2630" dy="14.5">+ getLanguageKey()</tspan><tspan x="2630" dy="14.5">+ setLoaded()</tspan><tspan x="2630" dy="14.5">+ getLoaded()</tspan><tspan x="2630" dy="14.5">+ setTranslations()</tspan><tspan x="2630" dy="14.5">+ getTranslations()</tspan><tspan x="2630" dy="14.5">+ getInstance()</tspan><tspan x="2630" dy="14.5"># __construct()</tspan><tspan x="2630" dy="14.5"># readFromCache()</tspan><tspan x="2630" dy="14.5"># readFromDB()</tspan></text></g>
<g id="n_illanguage"><rect class="b" x="2922" y="2187" width="179" height="309"/><text class="t" x="3011" y="2201">ilLanguage</text><line class="s" x1="2922" y1="2209" x2="3101" y2="2209"/><line class="s" x1="2922" y1="2227" x2="3101" y2="2227"/><text x="2930" y="2241"><tspan x="2930">+ __construct()</tspan><tspan x="2930" dy="14.5">+ getLangKey()</tspan><tspan x="2930" dy="14.5">+ getDefaultLanguage()</tspan><tspan x="2930" dy="14.5">+ getTextDirection()</tspan><tspan x="2930" dy="14.5">+ getContentLanguage()</tspan><tspan x="2930" dy="14.5">+ txtlng()</tspan><tspan x="2930" dy="14.5">+ txt()</tspan><tspan x="2930" dy="14.5">+ exists()</tspan><tspan x="2930" dy="14.5">+ loadLanguageModule()</tspan><tspan x="2930" dy="14.5">+ getInstalledLanguages()</tspan><tspan x="2930" dy="14.5">and 7 more...</tspan><tspan x="2930" dy="14.5">+ _getInstalledLanguages()</tspan><tspan x="2930" dy="14.5">+ _lookupEntry()</tspan><tspan x="2930" dy="14.5">+ lookupId()</tspan><tspan x="2930" dy="14.5">+ getFallbackInstance()</tspan><tspan x="2930" dy="14.5">+ getGlobalInstance()</tspan><tspan x="2930" dy="14.5"># logUsage()</tspan><tspan x="2930" dy="14.5"># isUsageLogEnabled()</tspan></text></g>
<g id="n_languagelanguage"><rect class="b" x="3282" y="1828" width="175" height="106"/><text class="t" x="3369" y="1842">ILIAS\Language\Language</text><line class="s" x1="3282" y1="1850" x2="3457" y2="1850"/><line class="s" x1="3282" y1="1868" x2="3457" y2="1868"/><text x="3290" y="1882"><tspan x="3290">+ txt()</tspan><tspan x="3290" dy="14.5">+ loadLanguageModule()</tspan><tspan x="3290" dy="14.5">+ getLangKey()</tspan><tspan x="3290" dy="14.5">+ toJS()</tspan></text></g>
<g id="n_properties"><rect class="b" x="2394" y="2217" width="235" height="251"/><text class="t" x="2511" y="2231"><tspan x="2511">ILIAS\ILIASObject\Properties</tspan><tspan x="2511" dy="14">\Properties</tspan></text><line class="s" x1="2394" y1="2253" x2="2629" y2="2253"/><line class="s" x1="2394" y1="2271" x2="2629" y2="2271"/><text x="2402" y="2285"><tspan x="2402">+ __construct()</tspan><tspan x="2402" dy="14.5">+ storeCoreProperties()</tspan><tspan x="2402" dy="14.5">+ getOwner()</tspan><tspan x="2402" dy="14.5">+ withOwner()</tspan><tspan x="2402" dy="14.5">+ getImportId()</tspan><tspan x="2402" dy="14.5">+ withImportId()</tspan><tspan x="2402" dy="14.5">+ getPropertyTitleAndDescription()</tspan><tspan x="2402" dy="14.5">+ withPropertyTitleAndDescription()</tspan><tspan x="2402" dy="14.5">+ storePropertyTitleAndDescription()</tspan><tspan x="2402" dy="14.5">+ getPropertyIsOnline()</tspan><tspan x="2402" dy="14.5">and 16 more...</tspan><tspan x="2402" dy="14.5">- updateMetadataForTitleAnd</tspan><tspan x="2402" dy="14.5">Description()</tspan></text></g>
<g id="n_aggregator"><rect class="b" x="2654" y="2291" width="193" height="106"/><text class="t" x="2750" y="2305"><tspan x="2750">ILIAS\ILIASObject\Properties</tspan><tspan x="2750" dy="14">\Aggregator</tspan></text><line class="s" x1="2654" y1="2327" x2="2847" y2="2327"/><line class="s" x1="2654" y1="2345" x2="2847" y2="2345"/><text x="2662" y="2359"><tspan x="2662">+ __construct()</tspan><tspan x="2662" dy="14.5">+ getFor()</tspan><tspan x="2662" dy="14.5">+ preload()</tspan></text></g>
<g id="n_ilobject"><rect class="b" x="2899" y="2578" width="226" height="599"/><text class="t" x="3012" y="2592">ilObject</text><line class="s" x1="2899" y1="2600" x2="3125" y2="2600"/><line class="s" x1="2899" y1="2618" x2="3125" y2="2618"/><text x="2907" y="2632"><tspan x="2907">+ getObjectProperties()</tspan><tspan x="2907" dy="14.5">+ flushObjectProperties()</tspan><tspan x="2907" dy="14.5">+ withReferences()</tspan><tspan x="2907" dy="14.5">+ processAutoRating()</tspan><tspan x="2907" dy="14.5">+ read()</tspan><tspan x="2907" dy="14.5">+ getId()</tspan><tspan x="2907" dy="14.5">+ setId()</tspan><tspan x="2907" dy="14.5">+ setRefId()</tspan><tspan x="2907" dy="14.5">+ getRefId()</tspan><tspan x="2907" dy="14.5">+ getType()</tspan><tspan x="2907" dy="14.5">and 40 more...</tspan><tspan x="2907" dy="14.5">+ _lookupObjIdByImportId()</tspan><tspan x="2907" dy="14.5">+ _lookupImportId()</tspan><tspan x="2907" dy="14.5">+ _lookupOwnerName()</tspan><tspan x="2907" dy="14.5">+ _getIdForImportId()</tspan><tspan x="2907" dy="14.5">+ _getAllReferences()</tspan><tspan x="2907" dy="14.5">+ _lookupTitle()</tspan><tspan x="2907" dy="14.5">+ lookupOfflineStatus()</tspan><tspan x="2907" dy="14.5">+ _lookupOwner()</tspan><tspan x="2907" dy="14.5">+ _getIdsForTitle()</tspan><tspan x="2907" dy="14.5">+ _lookupDescription()</tspan><tspan x="2907" dy="14.5">and 27 more...</tspan><tspan x="2907" dy="14.5"># doMDUpdateListener()</tspan><tspan x="2907" dy="14.5"># beforeMDUpdateListener()</tspan><tspan x="2907" dy="14.5"># doCreateMetaData()</tspan><tspan x="2907" dy="14.5"># beforeCreateMetaData()</tspan><tspan x="2907" dy="14.5"># doUpdateMetaData()</tspan><tspan x="2907" dy="14.5"># beforeUpdateMetaData()</tspan><tspan x="2907" dy="14.5"># doDeleteMetaData()</tspan><tspan x="2907" dy="14.5"># beforeDeleteMetaData()</tspan><tspan x="2907" dy="14.5"># handleAutoRating()</tspan><tspan x="2907" dy="14.5"># hasAutoRating()</tspan><tspan x="2907" dy="14.5">- appendCopyInfoToTranslations()</tspan><tspan x="2907" dy="14.5">- getCallbackForTitlesPerLanguage</tspan><tspan x="2907" dy="14.5">Transformation()</tspan><tspan x="2907" dy="14.5">- appendNumberOfCopiesToTitle()</tspan><tspan x="2907" dy="14.5">- isTitleUnique()</tspan><tspan x="2907" dy="14.5">- buildTitleWithoutCopySuffix()</tspan></text></g>
<g id="n_ilobjuser"><rect class="b" x="2911" y="3260" width="201" height="745"/><text class="t" x="3011" y="3274">ilObjUser</text><line class="s" x1="2911" y1="3282" x2="3112" y2="3282"/><text x="2919" y="3296"><tspan x="2919">+ $login</tspan><tspan x="2919" dy="14.5">+ $gender</tspan><tspan x="2919" dy="14.5">+ $utitle</tspan><tspan x="2919" dy="14.5">+ $firstname</tspan><tspan x="2919" dy="14.5">+ $lastname</tspan><tspan x="2919" dy="14.5">+ $fullname</tspan><tspan x="2919" dy="14.5">+ $department</tspan><tspan x="2919" dy="14.5">+ $street</tspan><tspan x="2919" dy="14.5">+ $city</tspan><tspan x="2919" dy="14.5">+ $country</tspan><tspan x="2919" dy="14.5">and 12 more...</tspan><tspan x="2919" dy="14.5"># $time_limit_message</tspan><tspan x="2919" dy="14.5"># $last_login</tspan><tspan x="2919" dy="14.5"># $passwd</tspan><tspan x="2919" dy="14.5"># $password_encoding_type</tspan><tspan x="2919" dy="14.5"># $password_salt</tspan><tspan x="2919" dy="14.5"># $birthday</tspan><tspan x="2919" dy="14.5"># $second_email</tspan><tspan x="2919" dy="14.5"># $inactivation_date</tspan><tspan x="2919" dy="14.5"># $org_units</tspan><tspan x="2919" dy="14.5"># $last_profile_prompt</tspan><tspan x="2919" dy="14.5"># $avatar_rid</tspan></text><line class="s" x1="2911" y1="3607" x2="3112" y2="3607"/><text x="2919" y="3621"><tspan x="2919">+ __construct()</tspan><tspan x="2919" dy="14.5">+ read()</tspan><tspan x="2919" dy="14.5">+ getPasswordEncodingType()</tspan><tspan x="2919" dy="14.5">+ setPasswordEncodingType()</tspan><tspan x="2919" dy="14.5">+ getPasswordSalt()</tspan><tspan x="2919" dy="14.5">+ setPasswordSalt()</tspan><tspan x="2919" dy="14.5">+ getLogin()</tspan><tspan x="2919" dy="14.5">+ setLogin()</tspan><tspan x="2919" dy="14.5">+ setGender()</tspan><tspan x="2919" dy="14.5">+ getGender()</tspan><tspan x="2919" dy="14.5">and 290 more...</tspan><tspan x="2919" dy="14.5">+ _lookupLogin()</tspan><tspan x="2919" dy="14.5">+ _lookupFullname()</tspan><tspan x="2919" dy="14.5">+ _lookupEmail()</tspan><tspan x="2919" dy="14.5">+ _lookupGender()</tspan><tspan x="2919" dy="14.5">+ _lookupName()</tspan><tspan x="2919" dy="14.5">+ _lookupId()</tspan><tspan x="2919" dy="14.5">+ _loginExists()</tspan><tspan x="2919" dy="14.5">+ _getUsersForRole()</tspan><tspan x="2919" dy="14.5">and 80 more...</tspan><tspan x="2919" dy="14.5"># cleanup()</tspan><tspan x="2919" dy="14.5"># setLastLogin()</tspan><tspan x="2919" dy="14.5">- getDefaultPref()</tspan><tspan x="2919" dy="14.5">- hasUserPrefs()</tspan><tspan x="2919" dy="14.5">- lookupPref()</tspan></text></g>
<g id="n_ilrbacreview"><rect class="b" x="3720" y="1009" width="218" height="425"/><text class="t" x="3829" y="1023">ilRbacReview</text><line class="s" x1="3720" y1="1031" x2="3938" y2="1031"/><line class="s" x1="3720" y1="1049" x2="3938" y2="1049"/><text x="3728" y="1063"><tspan x="3728">+ __construct()</tspan><tspan x="3728" dy="14.5">+ roleExists()</tspan><tspan x="3728" dy="14.5">+ getParentRoleIds()</tspan><tspan x="3728" dy="14.5">+ getRoleListByObject()</tspan><tspan x="3728" dy="14.5">+ getAssignableRoles()</tspan><tspan x="3728" dy="14.5">+ getAssignableRolesInSubtree()</tspan><tspan x="3728" dy="14.5">+ getAssignableChildRoles()</tspan><tspan x="3728" dy="14.5">+ getNumberOfAssignedUsers()</tspan><tspan x="3728" dy="14.5">+ assignedUsers()</tspan><tspan x="3728" dy="14.5">+ isAssigned()</tspan><tspan x="3728" dy="14.5">and 43 more...</tspan><tspan x="3728" dy="14.5">+ _getOperationIdsByName()</tspan><tspan x="3728" dy="14.5">+ _getOperationIdByName()</tspan><tspan x="3728" dy="14.5">+ lookupCreateOperationIds()</tspan><tspan x="3728" dy="14.5">+ _getOperationList()</tspan><tspan x="3728" dy="14.5">+ _groupOperationsByClass()</tspan><tspan x="3728" dy="14.5">+ _getCustomRBACOperationId()</tspan><tspan x="3728" dy="14.5">+ _isRBACOperation()</tspan><tspan x="3728" dy="14.5"># __getParentRoles()</tspan><tspan x="3728" dy="14.5"># __setTemplateFilter()</tspan><tspan x="3728" dy="14.5"># __setRoleType()</tspan><tspan x="3728" dy="14.5"># __setProtectedStatus()</tspan><tspan x="3728" dy="14.5">- getAssignableRolesGenerator()</tspan><tspan x="3728" dy="14.5">- setRoleTypeAndProtection()</tspan><tspan x="3728" dy="14.5">- buildRoleType()</tspan><tspan x="3728" dy="14.5">- buildProtectionByStringValue()</tspan></text></g>
<g id="n_ilappeventhandler"><rect class="b" x="4277" y="1177" width="131" height="92"/><text class="t" x="4342" y="1191">ilAppEventHandler</text><line class="s" x1="4277" y1="1199" x2="4408" y2="1199"/><line class="s" x1="4277" y1="1217" x2="4408" y2="1217"/><text x="4285" y="1231"><tspan x="4285">+ __construct()</tspan><tspan x="4285" dy="14.5">+ raise()</tspan><tspan x="4285" dy="14.5"># initListeners()</tspan></text></g>
<g id="n_iltreeimplementation"><rect class="b" x="4534" y="1119" width="180" height="208"/><text class="t" x="4624" y="1133">ilTreeImplementation</text><line class="s" x1="4534" y1="1141" x2="4714" y2="1141"/><line class="s" x1="4534" y1="1159" x2="4714" y2="1159"/><text x="4542" y="1173"><tspan x="4542">+ getSubTreeIds()</tspan><tspan x="4542" dy="14.5">+ getSubTreeQuery()</tspan><tspan x="4542" dy="14.5">+ getTrashSubTreeQuery()</tspan><tspan x="4542" dy="14.5">+ getRelation()</tspan><tspan x="4542" dy="14.5">+ getPathIds()</tspan><tspan x="4542" dy="14.5">+ insertNode()</tspan><tspan x="4542" dy="14.5">+ deleteTree()</tspan><tspan x="4542" dy="14.5">+ moveToTrash()</tspan><tspan x="4542" dy="14.5">+ moveTree()</tspan><tspan x="4542" dy="14.5">+ getSubtreeInfo()</tspan><tspan x="4542" dy="14.5">+ validateParentRelations()</tspan></text></g>
<g id="n_iltree"><rect class="b" x="4328" y="1695" width="225" height="370"/><text class="t" x="4440" y="1709">ilTree</text><line class="s" x1="4328" y1="1717" x2="4553" y2="1717"/><text x="4336" y="1731"># DEFAULT_GAP</text><line class="s" x1="4328" y1="1738" x2="4553" y2="1738"/><text x="4336" y="1752"><tspan x="4336">+ __construct()</tspan><tspan x="4336" dy="14.5">+ initTreeImplementation()</tspan><tspan x="4336" dy="14.5">+ getTreeImplementation()</tspan><tspan x="4336" dy="14.5">+ useCache()</tspan><tspan x="4336" dy="14.5">+ getDepthCache()</tspan><tspan x="4336" dy="14.5">+ getParentCache()</tspan><tspan x="4336" dy="14.5">+ initLangCode()</tspan><tspan x="4336" dy="14.5">+ getTreeTable()</tspan><tspan x="4336" dy="14.5">+ getObjectDataTable()</tspan><tspan x="4336" dy="14.5">+ getTreePk()</tspan><tspan x="4336" dy="14.5">and 60 more...</tspan><tspan x="4336" dy="14.5">+ lookupTreesForNode()</tspan><tspan x="4336" dy="14.5">+ _removeEntry()</tspan><tspan x="4336" dy="14.5"># isCacheUsed()</tspan><tspan x="4336" dy="14.5"># resetInTreeCache()</tspan><tspan x="4336" dy="14.5"># fetchTranslationFromObject</tspan><tspan x="4336" dy="14.5">DataCache()</tspan><tspan x="4336" dy="14.5"># __renumber()</tspan><tspan x="4336" dy="14.5"># __checkDelete()</tspan><tspan x="4336" dy="14.5"># __getSubTreeByParentRelation()</tspan><tspan x="4336" dy="14.5"># __validateSubtrees()</tspan><tspan x="4336" dy="14.5"># isRepositoryTree()</tspan></text></g>
<g id="n_ilrbacadmin"><rect class="b" x="4628" y="1761" width="188" height="237"/><text class="t" x="4722" y="1775">ilRbacAdmin</text><line class="s" x1="4628" y1="1783" x2="4816" y2="1783"/><line class="s" x1="4628" y1="1801" x2="4816" y2="1801"/><text x="4636" y="1815"><tspan x="4636">+ __construct()</tspan><tspan x="4636" dy="14.5">+ setBlockedStatus()</tspan><tspan x="4636" dy="14.5">+ removeUser()</tspan><tspan x="4636" dy="14.5">+ deleteRole()</tspan><tspan x="4636" dy="14.5">+ deleteTemplate()</tspan><tspan x="4636" dy="14.5">+ deleteLocalRole()</tspan><tspan x="4636" dy="14.5">+ assignUserLimited()</tspan><tspan x="4636" dy="14.5">+ assignUser()</tspan><tspan x="4636" dy="14.5">+ deassignUser()</tspan><tspan x="4636" dy="14.5">+ grantPermission()</tspan><tspan x="4636" dy="14.5">and 18 more...</tspan><tspan x="4636" dy="14.5"># applyMovedObjectDidactic</tspan><tspan x="4636" dy="14.5">Templates()</tspan></text></g>
<g id="n_ilfavouritesdbrepository"><rect class="b" x="4517" y="2260" width="192" height="164"/><text class="t" x="4613" y="2274">ilFavouritesDBRepository</text><line class="s" x1="4517" y1="2282" x2="4709" y2="2282"/><line class="s" x1="4517" y1="2300" x2="4709" y2="2300"/><text x="4525" y="2314"><tspan x="4525">+ __construct()</tspan><tspan x="4525" dy="14.5">+ add()</tspan><tspan x="4525" dy="14.5">+ remove()</tspan><tspan x="4525" dy="14.5">+ getFavouritesOfUser()</tspan><tspan x="4525" dy="14.5">+ ifIsFavourite()</tspan><tspan x="4525" dy="14.5">+ loadData()</tspan><tspan x="4525" dy="14.5">+ removeFavouritesOfRefId()</tspan><tspan x="4525" dy="14.5">+ removeFavouritesOfUser()</tspan></text></g>
<g id="n_ilfavouritesmanager"><rect class="b" x="4423" y="2789" width="192" height="179"/><text class="t" x="4519" y="2803">ilFavouritesManager</text><line class="s" x1="4423" y1="2811" x2="4615" y2="2811"/><line class="s" x1="4423" y1="2829" x2="4615" y2="2829"/><text x="4431" y="2843"><tspan x="4431">+ __construct()</tspan><tspan x="4431" dy="14.5">+ add()</tspan><tspan x="4431" dy="14.5">+ remove()</tspan><tspan x="4431" dy="14.5">+ ifIsFavourite()</tspan><tspan x="4431" dy="14.5">+ loadData()</tspan><tspan x="4431" dy="14.5">+ isGloballyActivated()</tspan><tspan x="4431" dy="14.5">+ getFavouritesOfUser()</tspan><tspan x="4431" dy="14.5">+ removeFavouritesOfRefId()</tspan><tspan x="4431" dy="14.5">+ removeFavouritesOfUser()</tspan></text></g>
<g id="n_rsservices"><rect class="b" x="5353" y="1133" width="159" height="178"/><text class="t" x="5432" y="1147"><tspan x="5432">ILIAS\ResourceStorage</tspan><tspan x="5432" dy="14">\Services</tspan></text><line class="s" x1="5353" y1="1169" x2="5512" y2="1169"/><line class="s" x1="5353" y1="1187" x2="5512" y2="1187"/><text x="5361" y="1201"><tspan x="5361">+ __construct()</tspan><tspan x="5361" dy="14.5">+ manage()</tspan><tspan x="5361" dy="14.5">+ manageContainer()</tspan><tspan x="5361" dy="14.5">+ consume()</tspan><tspan x="5361" dy="14.5">+ collection()</tspan><tspan x="5361" dy="14.5">+ flavours()</tspan><tspan x="5361" dy="14.5">+ preload()</tspan><tspan x="5361" dy="14.5">+ events()</tspan></text></g>
<g id="n_ilorgunitpositionaccesshandler"><rect class="b" x="5192" y="2225" width="250" height="237"/><text class="t" x="5317" y="2239">ilOrgUnitPositionAccessHandler</text><line class="s" x1="5192" y1="2247" x2="5442" y2="2247"/><line class="s" x1="5192" y1="2265" x2="5442" y2="2265"/><text x="5200" y="2279"><tspan x="5200">+ filterUserIdsForCurrentUsers</tspan><tspan x="5200" dy="14.5">PositionsAndPermission()</tspan><tspan x="5200" dy="14.5">+ filterUserIdsForUsersPositions</tspan><tspan x="5200" dy="14.5">AndPermission()</tspan><tspan x="5200" dy="14.5">+ isCurrentUserBasedOnPositions</tspan><tspan x="5200" dy="14.5">AllowedTo()</tspan><tspan x="5200" dy="14.5">+ isUserBasedOnPositionsAllowedTo()</tspan><tspan x="5200" dy="14.5">+ checkPositionAccess()</tspan><tspan x="5200" dy="14.5">+ hasCurrentUserAnyPosition</tspan><tspan x="5200" dy="14.5">Access()</tspan><tspan x="5200" dy="14.5">+ filterUserIdsByPositionOf</tspan><tspan x="5200" dy="14.5">CurrentUser()</tspan><tspan x="5200" dy="14.5">+ filterUserIdsByPositionOfUser()</tspan></text></g>
<g id="n_ilorgunitpositionandrbacaccesshandler"><rect class="b" x="5465" y="2266" width="227" height="149"/><text class="t" x="5578" y="2280"><tspan x="5578">ilOrgUnitPositionAndRBACAccess</tspan><tspan x="5578" dy="14">Handler</tspan></text><line class="s" x1="5465" y1="2302" x2="5692" y2="2302"/><line class="s" x1="5465" y1="2320" x2="5692" y2="2320"/><text x="5473" y="2334"><tspan x="5473">+ checkRbacOrPositionPermission</tspan><tspan x="5473" dy="14.5">Access()</tspan><tspan x="5473" dy="14.5">+ filterUserIdsByRbacOrPosition</tspan><tspan x="5473" dy="14.5">OfCurrentUser()</tspan><tspan x="5473" dy="14.5">+ hasUserRBACorAnyPosition</tspan><tspan x="5473" dy="14.5">Access()</tspan></text></g>
<g id="n_ilrbacaccesshandler"><rect class="b" x="5716" y="2239" width="217" height="208"/><text class="t" x="5824" y="2253">ilRBACAccessHandler</text><line class="s" x1="5716" y1="2261" x2="5933" y2="2261"/><line class="s" x1="5716" y1="2279" x2="5933" y2="2279"/><text x="5724" y="2293"><tspan x="5724">+ storeAccessResult()</tspan><tspan x="5724" dy="14.5">+ getStoredAccessResult()</tspan><tspan x="5724" dy="14.5">+ setPreventCachingLastResult()</tspan><tspan x="5724" dy="14.5">+ getPreventCachingLastResult()</tspan><tspan x="5724" dy="14.5">+ getResults()</tspan><tspan x="5724" dy="14.5">+ setResults()</tspan><tspan x="5724" dy="14.5">+ addInfoItem()</tspan><tspan x="5724" dy="14.5">+ checkAccess()</tspan><tspan x="5724" dy="14.5">+ checkAccessOfUser()</tspan><tspan x="5724" dy="14.5">+ getInfo()</tspan><tspan x="5724" dy="14.5">and 11 more...</tspan></text></g>
<g id="n_ilaccesshandler"><rect class="b" x="5642" y="2848" width="118" height="58"/><text class="t" x="5701" y="2862">ilAccessHandler</text><line class="s" x1="5642" y1="2870" x2="5760" y2="2870"/><line class="s" x1="5642" y1="2888" x2="5760" y2="2888"/></g>
<g id="n_globalhttpstate"><rect class="b" x="4215" y="3547" width="190" height="179"/><text class="t" x="4310" y="3561">ILIAS\HTTP\GlobalHttpState</text><line class="s" x1="4215" y1="3569" x2="4405" y2="3569"/><line class="s" x1="4215" y1="3587" x2="4405" y2="3587"/><text x="4223" y="3601"><tspan x="4223">+ durations()</tspan><tspan x="4223" dy="14.5">+ wrapper()</tspan><tspan x="4223" dy="14.5">+ request()</tspan><tspan x="4223" dy="14.5">+ response()</tspan><tspan x="4223" dy="14.5">+ cookieJar()</tspan><tspan x="4223" dy="14.5">+ saveRequest()</tspan><tspan x="4223" dy="14.5">+ saveResponse()</tspan><tspan x="4223" dy="14.5">+ sendResponse()</tspan><tspan x="4223" dy="14.5">+ close()</tspan></text></g>
<g id="n_ilrbacsystem"><rect class="b" x="4080" y="4090" width="200" height="150"/><text class="t" x="4180" y="4104">ilRbacSystem</text><line class="s" x1="4080" y1="4112" x2="4280" y2="4112"/><line class="s" x1="4080" y1="4130" x2="4280" y2="4130"/><text x="4088" y="4144"><tspan x="4088">+ getInstance()</tspan><tspan x="4088" dy="14.5">+ resetCaches()</tspan><tspan x="4088" dy="14.5">+ checkAccess()</tspan><tspan x="4088" dy="14.5">+ checkAccessOfUser()</tspan><tspan x="4088" dy="14.5">+ preloadRbacPaCache()</tspan><tspan x="4088" dy="14.5">+ resetPACache()</tspan><tspan x="4088" dy="14.5"># __construct()</tspan></text></g>
<g id="n_ilrecommendedcontentmanager"><rect class="b" x="5580" y="3530" width="270" height="193"/><text class="t" x="5715" y="3544">ilRecommendedContentManager</text><line class="s" x1="5580" y1="3552" x2="5850" y2="3552"/><line class="s" x1="5580" y1="3570" x2="5850" y2="3570"/><text x="5588" y="3584"><tspan x="5588">+ __construct()</tspan><tspan x="5588" dy="14.5">+ addRoleRecommendation()</tspan><tspan x="5588" dy="14.5">+ removeRoleRecommendation()</tspan><tspan x="5588" dy="14.5">+ addObjectRecommendation()</tspan><tspan x="5588" dy="14.5">+ removeObjectRecommendation()</tspan><tspan x="5588" dy="14.5">+ removeRefIdData()</tspan><tspan x="5588" dy="14.5">+ removeUserData()</tspan><tspan x="5588" dy="14.5">+ removeRoleData()</tspan><tspan x="5588" dy="14.5">+ getOpenRecommendationsOfUser()</tspan><tspan x="5588" dy="14.5">+ declineObjectRecommendation()</tspan></text></g>
<g id="n_translations"><rect class="b" x="5980" y="4045" width="200" height="207"/><text class="t" x="6080" y="4059"><tspan x="6080">ILIAS\ILIASObject\Properties</tspan><tspan x="6080" dy="14">\Translations\Translations</tspan></text><line class="s" x1="5980" y1="4081" x2="6180" y2="4081"/><line class="s" x1="5980" y1="4099" x2="6180" y2="4099"/><text x="5988" y="4113"><tspan x="5988">+ __construct()</tspan><tspan x="5988" dy="14.5">+ getObjectId()</tspan><tspan x="5988" dy="14.5">+ getDefaultLanguage()</tspan><tspan x="5988" dy="14.5">+ getDefaultTitle()</tspan><tspan x="5988" dy="14.5">+ getDefaultDescription()</tspan><tspan x="5988" dy="14.5">+ withDefaultLanguage()</tspan><tspan x="5988" dy="14.5">+ getLanguages()</tspan><tspan x="5988" dy="14.5">+ getMigrated()</tspan><tspan x="5988" dy="14.5">+ withMigrated()</tspan><tspan x="5988" dy="14.5">and 6 more...</tspan></text></g>
<g id="n_ilcontainer"><rect class="b" x="3745" y="4390" width="216" height="573"/><text class="t" x="3853" y="4404">ilContainer</text><line class="s" x1="3745" y1="4412" x2="3961" y2="4412"/><text x="3753" y="4426"><tspan x="3753">+ VIEW_SESSIONS</tspan><tspan x="3753" dy="14.5">+ VIEW_OBJECTIVE</tspan><tspan x="3753" dy="14.5">+ VIEW_TIMING</tspan><tspan x="3753" dy="14.5">+ VIEW_ARCHIVE</tspan><tspan x="3753" dy="14.5">+ VIEW_BY_TYPE</tspan><tspan x="3753" dy="14.5">+ VIEW_INHERIT</tspan><tspan x="3753" dy="14.5">+ SORT_TITLE</tspan><tspan x="3753" dy="14.5">+ SORT_ACTIVATION</tspan><tspan x="3753" dy="14.5">+ SORT_DIRECTION_ASC</tspan><tspan x="3753" dy="14.5">+ SORT_DIRECTION_DESC</tspan><tspan x="3753" dy="14.5">+ SORT_NEW_ITEMS_ORDER</tspan><tspan x="3753" dy="14.5">_TITLE</tspan><tspan x="3753" dy="14.5">+ TILE_SMALL</tspan><tspan x="3753" dy="14.5">+ TILE_LARGE</tspan><tspan x="3753" dy="14.5">+ TILE_EXTRA_LARGE</tspan><tspan x="3753" dy="14.5">+ TILE_FULL</tspan></text><line class="s" x1="3745" y1="4650" x2="3961" y2="4650"/><text x="3753" y="4664"><tspan x="3753">+ getTileSizes()</tspan><tspan x="3753" dy="14.5">+ getObjectTranslation()</tspan><tspan x="3753" dy="14.5">+ setObjectTranslation()</tspan><tspan x="3753" dy="14.5">+ createContainerDirectory()</tspan><tspan x="3753" dy="14.5">+ getContainerDirectory()</tspan><tspan x="3753" dy="14.5">+ setHiddenFilesFound()</tspan><tspan x="3753" dy="14.5">+ getHiddenFilesFound()</tspan><tspan x="3753" dy="14.5">+ getStyleSheetId()</tspan><tspan x="3753" dy="14.5">+ setStyleSheetId()</tspan><tspan x="3753" dy="14.5">+ setNewsTimeline()</tspan><tspan x="3753" dy="14.5">and 32 more...</tspan><tspan x="3753" dy="14.5">+ _getContainerDirectory()</tspan><tspan x="3753" dy="14.5">+ _lookupContainerSetting()</tspan><tspan x="3753" dy="14.5">+ _hasContainerSetting()</tspan><tspan x="3753" dy="14.5">+ _writeContainerSetting()</tspan><tspan x="3753" dy="14.5">+ _getContainerSettings()</tspan><tspan x="3753" dy="14.5">+ _deleteContainerSettings()</tspan><tspan x="3753" dy="14.5">+ _exportContainerSettings()</tspan><tspan x="3753" dy="14.5">+ getCompleteDescriptions()</tspan><tspan x="3753" dy="14.5"># getInitialSubitems()</tspan><tspan x="3753" dy="14.5"># applyContainerUserFilter()</tspan></text></g>
<g id="n_ilobjrootfolder"><rect x="3736" y="5030" width="234" height="150" fill="#bfbfbf" stroke="#000" stroke-width="1.5"/><text class="t" x="3853" y="5044">ilObjRootFolder</text><line class="s" x1="3736" y1="5052" x2="3970" y2="5052"/><line class="s" x1="3736" y1="5070" x2="3970" y2="5070"/><text x="3744" y="5084"><tspan x="3744">+ __construct()</tspan><tspan x="3744" dy="14.5">+ delete()</tspan><tspan x="3744" dy="14.5">+ getTranslations()</tspan><tspan x="3744" dy="14.5">+ deleteTranslation()</tspan><tspan x="3744" dy="14.5">+ removeTranslations()</tspan><tspan x="3744" dy="14.5">+ addTranslation()</tspan><tspan x="3744" dy="14.5">+ addAdditionalSubItemInformation()</tspan></text></g>
</svg>
